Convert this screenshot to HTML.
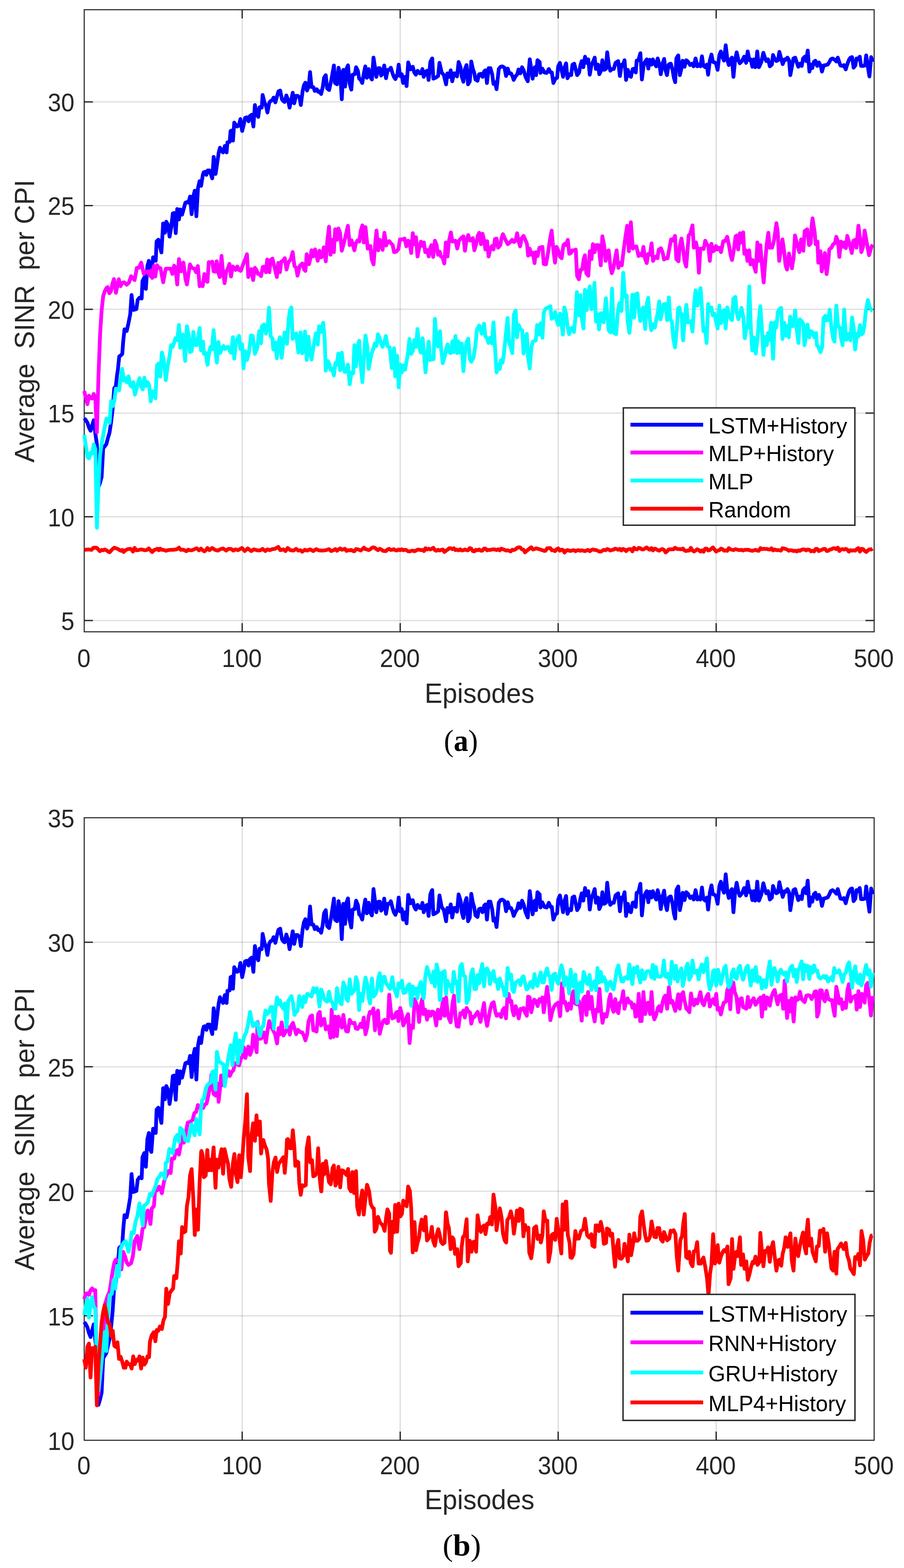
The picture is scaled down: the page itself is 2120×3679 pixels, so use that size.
<!DOCTYPE html>
<html lang="en">
<head>
<meta charset="utf-8">
<title>Average SINR per CPI vs Episodes</title>
<style>
html,body{margin:0;padding:0;background:#fff}
body{width:2120px;height:3679px;overflow:hidden}
svg{display:block}
</style>
</head>
<body>
<svg width="2120" height="3679" viewBox="0 0 2120 3679" role="img" aria-label="Average SINR per CPI versus episodes: (a) LSTM+History, MLP+History, MLP, Random; (b) LSTM+History, RNN+History, GRU+History, MLP4+History">
<rect width="2120" height="3679" fill="#fff"/>
<!-- (a) -->
<g>
<line x1="568.0" y1="22.8" x2="568.0" y2="1482.4" stroke="#262626" stroke-opacity="0.15" stroke-width="3"/>
<line x1="938.5" y1="22.8" x2="938.5" y2="1482.4" stroke="#262626" stroke-opacity="0.15" stroke-width="3"/>
<line x1="1309.0" y1="22.8" x2="1309.0" y2="1482.4" stroke="#262626" stroke-opacity="0.15" stroke-width="3"/>
<line x1="1679.5" y1="22.8" x2="1679.5" y2="1482.4" stroke="#262626" stroke-opacity="0.15" stroke-width="3"/>
<line x1="197.5" y1="1455.9" x2="2050.0" y2="1455.9" stroke="#262626" stroke-opacity="0.15" stroke-width="3"/>
<line x1="197.5" y1="1212.5" x2="2050.0" y2="1212.5" stroke="#262626" stroke-opacity="0.15" stroke-width="3"/>
<line x1="197.5" y1="969.2" x2="2050.0" y2="969.2" stroke="#262626" stroke-opacity="0.15" stroke-width="3"/>
<line x1="197.5" y1="725.8" x2="2050.0" y2="725.8" stroke="#262626" stroke-opacity="0.15" stroke-width="3"/>
<line x1="197.5" y1="482.4" x2="2050.0" y2="482.4" stroke="#262626" stroke-opacity="0.15" stroke-width="3"/>
<line x1="197.5" y1="239.1" x2="2050.0" y2="239.1" stroke="#262626" stroke-opacity="0.15" stroke-width="3"/>
<line x1="568.0" y1="1482.4" x2="568.0" y2="1462.0" stroke="#262626" stroke-width="3"/>
<line x1="568.0" y1="22.8" x2="568.0" y2="43.2" stroke="#262626" stroke-width="3"/>
<line x1="938.5" y1="1482.4" x2="938.5" y2="1462.0" stroke="#262626" stroke-width="3"/>
<line x1="938.5" y1="22.8" x2="938.5" y2="43.2" stroke="#262626" stroke-width="3"/>
<line x1="1309.0" y1="1482.4" x2="1309.0" y2="1462.0" stroke="#262626" stroke-width="3"/>
<line x1="1309.0" y1="22.8" x2="1309.0" y2="43.2" stroke="#262626" stroke-width="3"/>
<line x1="1679.5" y1="1482.4" x2="1679.5" y2="1462.0" stroke="#262626" stroke-width="3"/>
<line x1="1679.5" y1="22.8" x2="1679.5" y2="43.2" stroke="#262626" stroke-width="3"/>
<line x1="197.5" y1="1455.9" x2="217.9" y2="1455.9" stroke="#262626" stroke-width="3"/>
<line x1="2050.0" y1="1455.9" x2="2029.6" y2="1455.9" stroke="#262626" stroke-width="3"/>
<line x1="197.5" y1="1212.5" x2="217.9" y2="1212.5" stroke="#262626" stroke-width="3"/>
<line x1="2050.0" y1="1212.5" x2="2029.6" y2="1212.5" stroke="#262626" stroke-width="3"/>
<line x1="197.5" y1="969.2" x2="217.9" y2="969.2" stroke="#262626" stroke-width="3"/>
<line x1="2050.0" y1="969.2" x2="2029.6" y2="969.2" stroke="#262626" stroke-width="3"/>
<line x1="197.5" y1="725.8" x2="217.9" y2="725.8" stroke="#262626" stroke-width="3"/>
<line x1="2050.0" y1="725.8" x2="2029.6" y2="725.8" stroke="#262626" stroke-width="3"/>
<line x1="197.5" y1="482.4" x2="217.9" y2="482.4" stroke="#262626" stroke-width="3"/>
<line x1="2050.0" y1="482.4" x2="2029.6" y2="482.4" stroke="#262626" stroke-width="3"/>
<line x1="197.5" y1="239.1" x2="217.9" y2="239.1" stroke="#262626" stroke-width="3"/>
<line x1="2050.0" y1="239.1" x2="2029.6" y2="239.1" stroke="#262626" stroke-width="3"/>
<rect x="197.5" y="22.8" width="1852.5" height="1459.6" fill="none" stroke="#262626" stroke-width="2.5"/>
<polyline points="197.5,981.4 201.2,985.5 204.9,991.7 208.7,1003.0 212.4,1010.7 216.1,997.9 219.8,986.0 223.5,1016.4 227.2,1042.2 230.9,1143.1 234.6,1132.8 238.3,1119.4 242.0,1051.9 245.7,1047.0 249.4,1042.2 253.1,1027.6 256.8,1015.4 260.5,991.1 264.2,959.4 267.9,910.8 271.6,905.9 274.5,880.0 276.5,867.3 279.6,836.4 283.8,833.4 286.8,830.3 288.9,801.4 292.0,772.6 297.1,776.7 301.3,758.2 305.4,737.5 308.5,692.2 312.6,727.3 319.8,725.2 322.9,703.6 327.0,698.4 332.2,700.4 334.2,659.3 338.4,651.0 342.1,677.8 345.6,624.2 349.1,611.9 352.8,644.9 354.9,648.9 359.0,603.6 365.2,611.9 367.2,566.5 371.3,562.4 378.5,592.3 382.6,524.3 386.8,546.0 389.9,520.2 394.0,527.4 397.7,555.2 401.2,535.6 405.3,500.6 408.4,499.6 412.1,547.0 415.6,490.3 419.7,515.0 422.8,491.3 427.0,503.7 427.2,503.0 431.0,489.3 434.7,475.6 438.3,474.2 442.0,475.6 445.7,461.1 449.4,502.7 453.1,461.8 456.8,447.4 460.5,507.5 464.3,441.2 467.9,425.1 471.6,436.1 475.7,410.3 477.8,404.1 480.9,403.1 484.0,410.3 487.1,400.0 491.2,400.0 494.3,408.2 497.8,418.5 501.1,368.1 505.6,408.2 509.8,379.3 512.8,358.8 515.9,346.4 520.1,354.6 523.1,357.7 527.3,342.3 531.4,357.7 533.4,334.0 538.6,333.0 540.7,307.3 543.7,306.2 546.4,329.9 549.3,287.7 553.0,292.9 556.1,296.9 560.2,294.9 563.7,279.4 567.9,307.3 571.6,292.9 574.7,276.4 578.8,275.3 582.9,284.6 586.0,272.2 590.1,269.2 594.2,296.9 597.8,246.5 601.5,266.0 605.6,274.3 608.6,251.6 613.8,252.6 615.9,222.8 620.0,239.3 624.1,249.6 627.2,264.0 631.3,241.3 634.4,237.2 638.5,235.1 641.6,228.9 645.7,240.3 649.9,224.9 653.0,214.5 657.1,212.5 661.2,233.1 664.3,237.2 667.4,239.3 671.5,223.8 675.6,235.1 679.1,252.6 682.8,235.1 686.5,217.6 690.0,242.3 694.2,224.9 698.3,224.9 702.4,228.9 705.5,246.5 709.6,214.5 712.7,200.1 716.2,193.9 719.9,212.5 724.1,202.2 727.1,169.2 730.6,204.2 734.4,204.2 735.2,205.1 738.2,213.4 742.8,209.3 746.1,215.5 749.6,214.4 753.1,220.6 756.8,205.1 759.9,182.5 764.0,176.3 767.1,207.2 771.8,211.3 776.4,190.7 779.4,174.2 783.1,153.6 785.6,194.8 790.4,197.9 793.9,158.8 798.0,174.2 801.5,232.9 805.2,163.9 809.3,203.1 812.4,161.9 816.1,153.2 819.6,194.8 823.8,210.3 826.8,175.3 832.0,174.2 835.1,157.7 839.2,166.0 842.3,184.6 845.4,186.6 849.5,194.8 853.6,170.1 856.7,155.7 860.2,182.5 864.5,161.9 868.1,180.4 872.2,186.6 875.9,135.1 879.4,157.7 882.5,180.4 887.6,159.8 890.7,159.8 893.8,177.3 897.9,172.2 901.0,153.6 905.2,183.5 909.3,163.9 913.4,163.9 916.5,158.8 920.6,172.2 923.7,180.4 927.2,185.6 931.9,174.2 935.0,151.6 938.1,178.4 942.2,174.2 945.3,194.8 949.4,180.4 953.5,202.0 957.3,146.4 962.8,162.9 968.0,156.7 971.5,170.1 975.2,175.3 979.3,166.0 984.5,172.2 987.6,172.2 990.6,161.9 993.7,180.4 997.9,168.1 1001.6,166.0 1005.1,187.6 1009.2,145.4 1013.3,137.1 1013.7,137.1 1016.2,184.6 1021.3,182.5 1027.5,178.4 1030.6,147.5 1035.8,170.1 1040.9,176.3 1046.1,197.9 1049.1,172.2 1053.3,180.4 1057.0,164.9 1060.5,190.7 1064.6,172.2 1068.7,172.2 1071.8,179.4 1075.5,145.4 1080.1,157.7 1083.1,180.4 1086.7,191.8 1090.4,161.9 1094.1,152.6 1097.6,197.9 1101.7,190.7 1105.2,144.4 1108.9,161.9 1112.0,170.1 1115.1,186.6 1119.8,189.7 1123.3,174.2 1127.5,173.2 1131.6,180.4 1135.7,167.0 1138.8,164.9 1141.9,194.8 1146.0,159.8 1150.1,159.8 1154.2,174.2 1157.3,196.9 1160.8,192.8 1164.5,209.3 1169.7,161.9 1173.8,156.7 1177.9,155.7 1183.1,158.8 1186.8,178.4 1190.7,160.9 1194.4,172.2 1198.5,172.2 1201.6,178.4 1204.7,187.6 1208.8,179.4 1213.0,174.2 1216.0,162.9 1220.2,172.2 1224.3,157.7 1228.4,166.0 1232.5,180.4 1237.7,190.7 1242.4,139.2 1245.9,161.9 1249.0,184.6 1254.2,157.7 1257.2,176.3 1260.4,141.3 1265.5,145.4 1267.5,171.1 1271.7,160.9 1276.8,170.1 1282.0,171.1 1287.1,161.9 1291.3,170.1 1294.1,170.1 1297.8,194.8 1302.4,184.6 1306.5,182.5 1309.0,155.7 1313.1,147.5 1316.8,163.9 1320.5,180.4 1324.0,157.7 1327.5,148.5 1330.8,183.5 1335.3,174.2 1339.5,176.3 1342.5,151.6 1346.7,149.5 1349.8,161.9 1353.5,176.3 1358.0,170.1 1361.1,153.6 1364.2,143.3 1367.9,157.7 1372.0,133.0 1375.5,147.5 1379.6,139.2 1383.1,175.3 1386.8,153.6 1390.5,145.4 1394.7,135.1 1397.5,161.9 1402.3,151.6 1405.4,174.2 1409.5,166.0 1412.6,141.3 1416.7,163.9 1420.9,161.9 1423.9,122.7 1428.0,153.6 1431.2,166.0 1435.3,161.9 1439.4,161.9 1443.5,147.5 1449.7,143.3 1453.8,178.4 1457.9,151.6 1461.0,151.6 1464.7,141.3 1468.2,187.6 1472.4,163.9 1476.5,178.4 1479.6,180.4 1483.7,161.9 1487.8,160.9 1490.9,170.1 1493.0,142.3 1497.1,141.3 1501.8,124.8 1505.3,186.6 1509.4,153.6 1512.5,145.4 1516.7,139.2 1520.4,160.9 1523.9,140.2 1528.0,151.6 1531.1,139.2 1535.2,149.5 1538.9,155.7 1542.4,137.1 1546.5,151.6 1549.6,174.2 1553.8,149.5 1557.5,138.2 1560.9,166.0 1564.1,176.3 1568.2,151.6 1571.9,149.5 1573.1,149.5 1577.2,163.9 1580.3,182.5 1583.4,192.8 1586.1,137.1 1590.6,129.9 1594.3,176.3 1597.8,161.9 1600.9,142.3 1605.4,156.7 1609.1,141.3 1613.3,144.4 1618.4,152.6 1622.6,149.5 1626.7,155.7 1631.2,137.1 1635.5,155.7 1639.0,151.6 1642.5,155.7 1646.2,132.0 1649.3,153.6 1653.5,157.7 1657.6,151.6 1660.6,175.3 1664.8,141.3 1668.5,127.9 1672.0,145.4 1676.1,146.4 1679.2,149.5 1682.9,163.9 1687.0,128.9 1690.5,120.6 1693.6,133.0 1697.8,142.3 1701.9,106.2 1706.0,141.3 1709.1,152.6 1713.2,139.2 1716.3,135.1 1720.0,180.4 1724.1,139.2 1727.6,122.7 1731.7,141.3 1734.9,148.5 1740.0,143.3 1745.2,133.0 1749.7,147.5 1753.4,120.6 1757.5,141.3 1760.6,139.2 1764.3,156.7 1767.8,139.2 1770.9,157.7 1772.5,156.7 1775.8,120.6 1779.9,157.7 1785.5,145.4 1790.2,123.8 1793.7,135.1 1796.8,143.3 1801.3,139.2 1805.4,155.7 1810.2,151.6 1812.8,128.9 1816.4,137.1 1820.5,143.3 1824.6,141.3 1827.7,121.7 1831.8,137.1 1835.5,150.5 1840.0,139.2 1843.1,140.2 1846.6,135.1 1850.4,141.3 1853.4,176.3 1857.6,153.6 1860.7,137.1 1864.8,135.1 1868.9,147.5 1872.0,156.7 1876.1,149.5 1880.2,154.7 1883.3,137.1 1887.5,133.0 1890.5,143.3 1894.2,118.6 1898.2,168.1 1901.9,151.6 1904.9,159.8 1908.5,145.4 1912.2,142.3 1916.3,154.7 1920.4,146.4 1924.5,153.6 1927.6,168.1 1931.7,153.6 1936.9,152.6 1941.0,151.6 1945.1,145.4 1948.2,139.2 1952.3,137.1 1957.5,140.2 1961.6,144.4 1964.7,135.1 1968.8,147.5 1970.9,153.6 1976.0,154.7 1979.1,152.6 1983.3,162.9 1987.4,149.5 1991.5,139.2 1994.6,135.1 1998.3,134.0 2001.8,158.8 2005.9,153.6 2008.6,137.1 2012.1,139.2 2016.2,133.0 2019.3,154.7 2024.5,154.7 2028.6,153.6 2031.3,129.9 2034.8,153.6 2038.9,179.4 2043.0,134.0 2046.3,145.4" fill="none" stroke="#0000ff" stroke-width="8.8" stroke-linejoin="round" stroke-linecap="butt"/>
<polyline points="197.5,917.5 201.2,934.0 204.9,948.4 208.7,928.3 212.4,934.0 216.1,935.0 219.8,924.2 223.5,934.0 227.2,1014.3 231.0,880.0 234.7,784.9 238.4,727.3 242.1,694.3 245.9,683.0 249.6,675.8 252.4,673.7 256.3,688.1 260.0,684.0 263.7,665.4 267.3,654.7 271.8,687.1 275.5,669.6 278.6,655.1 282.7,671.6 286.8,663.4 291.0,662.3 297.1,667.9 302.3,663.4 307.4,647.9 311.6,653.1 315.7,657.2 320.8,628.7 326.0,628.4 331.1,616.0 337.3,642.8 341.4,638.7 346.6,636.6 350.7,645.9 354.2,634.5 356.9,652.1 361.0,624.2 364.1,648.9 368.2,622.2 372.3,628.4 376.5,629.4 382.6,662.3 388.8,630.4 394.0,630.4 400.2,630.4 404.3,642.8 408.4,623.2 411.5,628.4 415.6,667.5 419.7,607.8 424.9,636.6 430.0,616.0 435.2,655.1 438.3,667.5 445.5,620.1 449.6,628.4 455.8,630.4 459.9,638.7 464.0,624.2 468.2,671.6 472.3,668.5 475.2,671.6 479.3,642.8 483.4,659.3 486.5,661.3 489.6,615.0 493.7,616.0 497.8,614.0 500.9,636.6 505.0,637.6 508.1,612.9 512.2,640.7 515.3,650.0 519.5,600.5 523.2,640.7 526.7,664.4 530.8,636.6 534.9,628.4 538.0,619.1 541.7,648.9 545.8,625.2 549.3,628.4 552.4,633.5 556.6,625.2 560.7,633.5 564.8,635.6 571.0,618.0 575.1,607.8 579.2,596.4 582.3,650.0 586.4,632.5 589.5,631.4 593.6,657.2 597.8,628.4 601.9,634.5 605.0,642.8 609.1,642.8 612.2,647.9 616.3,626.3 621.4,625.2 623.5,638.7 626.6,608.8 631.7,638.7 634.8,609.8 639.0,606.7 644.1,628.4 649.3,650.0 652.4,617.0 656.5,638.7 659.6,614.0 663.7,611.9 667.8,605.7 671.9,632.5 676.0,616.0 682.2,607.8 686.3,591.3 690.5,624.2 694.6,628.4 697.7,646.9 702.8,624.2 709.0,618.0 713.1,632.5 716.2,635.6 719.3,596.4 724.5,620.1 727.5,607.8 730.6,587.1 734.8,601.6 738.9,585.1 745.1,611.9 749.2,588.2 753.1,603.9 756.2,601.8 759.3,580.2 764.0,613.2 767.5,566.8 771.6,531.8 775.1,597.7 778.9,562.7 783.0,591.6 786.0,538.0 790.2,562.7 793.7,535.9 797.4,546.2 801.5,588.4 805.6,573.0 809.8,556.5 815.9,529.7 820.1,575.1 824.2,563.7 827.3,573.0 831.0,587.4 834.5,570.9 838.6,563.7 842.7,566.8 845.8,542.1 849.9,528.7 853.0,568.9 857.1,532.8 862.3,583.3 865.4,577.1 868.5,577.1 871.6,608.0 876.1,620.4 879.8,573.0 882.9,541.0 887.0,587.4 890.7,562.7 894.2,568.9 897.3,586.4 901.5,546.2 905.6,576.1 909.7,566.8 912.8,565.8 916.9,570.9 921.0,575.1 924.1,591.6 929.3,590.5 934.4,584.3 937.9,561.7 943.7,561.7 948.8,559.6 952.9,578.1 957.1,564.7 960.2,566.8 964.3,593.6 968.0,547.2 972.1,573.0 975.6,556.5 979.1,601.8 982.8,583.3 987.0,566.8 991.1,577.1 994.1,568.9 997.3,591.6 1001.4,586.4 1005.5,601.8 1008.6,583.3 1011.7,575.1 1015.8,602.9 1019.9,564.7 1024.0,575.1 1027.1,597.7 1031.2,590.5 1034.1,601.8 1037.8,603.9 1041.9,618.3 1045.5,568.9 1049.6,601.8 1052.7,566.8 1057.4,545.2 1060.9,566.8 1065.0,565.8 1068.1,564.7 1072.3,583.3 1076.4,564.7 1081.5,558.6 1086.7,554.5 1090.4,588.4 1093.9,564.7 1098.0,551.4 1102.1,564.7 1105.2,562.7 1108.9,558.6 1112.4,587.4 1116.5,573.0 1120.7,552.4 1123.8,546.2 1127.9,573.0 1131.6,548.3 1135.1,562.7 1138.2,585.4 1142.3,565.8 1145.8,601.8 1149.5,585.4 1153.6,577.1 1157.3,585.4 1160.8,560.7 1164.4,559.6 1168.1,581.2 1173.2,575.1 1176.3,558.6 1179.4,549.3 1183.5,558.6 1187.6,566.8 1190.7,573.0 1195.8,568.9 1201.0,562.7 1205.1,567.9 1209.3,564.7 1212.7,547.2 1216.5,566.8 1219.6,578.1 1223.7,558.6 1227.8,553.4 1232.9,564.7 1236.0,573.0 1238.5,599.8 1242.2,583.3 1245.3,597.7 1249.4,592.6 1253.6,617.3 1256.6,591.6 1260.8,600.8 1264.9,581.2 1269.0,580.2 1272.1,579.2 1275.2,619.4 1280.4,620.4 1285.5,591.6 1289.6,562.7 1293.7,541.0 1297.8,587.4 1301.6,616.3 1305.1,579.2 1309.2,587.4 1313.1,601.8 1317.2,606.0 1321.3,575.1 1324.4,571.9 1327.5,575.1 1331.6,562.7 1335.1,595.6 1338.9,593.6 1341.9,587.4 1346.0,587.4 1350.2,585.4 1353.3,647.1 1357.4,655.4 1361.5,632.7 1365.6,631.7 1368.7,608.0 1371.8,598.8 1374.9,641.0 1379.7,647.1 1383.1,589.5 1387.2,608.0 1390.4,573.0 1394.5,591.6 1398.6,575.1 1403.7,575.1 1408.9,622.5 1412.6,554.5 1416.7,575.1 1420.2,612.2 1424.3,589.5 1427.4,587.4 1431.6,626.6 1434.7,641.0 1438.8,628.7 1442.9,603.9 1446.0,587.4 1450.1,628.7 1454.2,616.3 1458.3,622.5 1462.5,587.4 1466.6,556.5 1470.7,529.7 1474.8,589.5 1479.4,521.5 1484.1,583.3 1488.2,579.2 1492.4,578.1 1497.5,600.8 1501.6,595.6 1505.7,599.8 1508.8,579.2 1513.0,608.0 1516.7,617.3 1520.1,595.6 1524.3,597.7 1528.0,570.9 1531.5,612.2 1535.6,603.9 1538.7,601.8 1541.8,606.0 1544.9,585.4 1550.0,582.3 1554.2,593.6 1557.2,609.0 1561.4,606.0 1565.5,606.0 1568.6,589.5 1573.7,561.7 1577.9,564.7 1583.0,553.4 1586.1,608.0 1591.2,613.2 1594.1,577.1 1598.2,559.6 1602.4,587.4 1605.4,612.2 1609.2,625.5 1612.3,587.4 1615.1,552.4 1618.8,548.3 1624.0,528.7 1627.1,581.2 1632.2,568.9 1635.3,583.3 1639.0,639.9 1642.5,583.3 1646.7,583.3 1650.2,584.3 1653.9,564.7 1657.6,573.0 1661.1,577.1 1664.6,612.2 1668.3,571.9 1672.4,589.5 1675.5,587.4 1679.0,577.1 1682.7,585.4 1686.8,581.2 1690.9,591.6 1696.1,565.8 1700.2,565.8 1705.4,555.5 1709.5,575.1 1713.6,599.8 1716.7,610.1 1720.8,587.4 1725.0,554.5 1728.4,552.4 1731.1,585.4 1735.3,547.2 1738.3,568.9 1742.9,545.2 1745.6,595.6 1749.7,587.4 1752.8,612.2 1756.9,587.4 1760.0,620.4 1765.1,610.1 1768.2,624.5 1772.3,637.9 1776.1,568.9 1779.6,612.2 1783.1,575.1 1786.8,620.4 1790.9,662.6 1795.0,608.0 1798.1,573.0 1801.8,546.2 1805.3,581.2 1810.5,581.2 1814.6,566.8 1817.7,546.2 1820.8,523.6 1824.1,546.2 1827.2,612.2 1831.3,587.4 1834.9,561.7 1838.6,587.4 1842.3,622.5 1845.7,632.7 1850.3,594.6 1854.0,614.2 1857.1,629.7 1861.2,603.9 1864.3,552.4 1869.5,573.0 1874.6,591.6 1878.7,561.7 1883.9,588.4 1887.0,542.1 1893.1,538.0 1897.3,575.1 1901.4,570.9 1903.4,529.7 1905.5,512.2 1910.7,546.2 1912.7,573.0 1917.2,566.8 1918.9,616.3 1924.1,589.5 1927.1,636.9 1931.3,616.3 1934.4,593.6 1938.5,643.1 1942.6,612.2 1944.7,585.4 1949.8,581.2 1953.9,573.0 1958.0,570.9 1961.2,555.5 1965.3,566.8 1968.3,602.9 1972.5,566.8 1977.6,579.2 1979.7,568.9 1983.8,582.3 1986.9,553.4 1992.1,570.9 1997.6,593.6 2001.3,564.7 2005.4,562.7 2008.5,581.2 2013.1,529.7 2016.8,558.6 2019.9,591.6 2024.0,579.2 2027.7,541.0 2032.2,566.8 2038.0,598.8 2043.6,579.2 2046.7,574.0" fill="none" stroke="#ff00ff" stroke-width="8.8" stroke-linejoin="round" stroke-linecap="butt"/>
<polyline points="197.6,1020.0 201.3,1045.7 205.1,1072.5 208.8,1075.6 212.5,1062.2 216.2,1064.3 219.9,1042.7 223.6,1054.0 227.3,1238.4 231.0,1138.5 234.7,1066.4 238.4,1041.6 242.1,1021.0 245.9,1000.4 249.6,981.9 253.3,983.9 257.0,992.2 260.7,940.6 264.4,953.0 268.1,940.6 271.8,911.8 275.5,913.9 279.2,915.9 282.9,891.2 286.6,865.4 290.3,893.3 294.1,887.1 297.8,897.4 301.5,883.0 305.2,903.6 308.9,907.7 312.6,896.4 316.3,926.2 320.0,913.9 323.7,897.4 327.4,887.1 331.1,907.7 334.8,913.9 338.5,886.0 342.3,905.6 346.0,896.4 349.7,903.6 353.4,941.7 357.1,918.0 360.8,920.1 364.5,934.5 368.2,857.1 371.9,852.9 375.6,883.8 379.6,827.2 383.7,842.6 388.8,892.1 392.9,861.2 397.1,838.5 401.2,809.7 405.3,813.8 411.5,793.2 415.6,798.3 419.7,762.3 422.8,815.8 429.0,784.9 434.2,846.8 438.3,765.4 442.4,787.0 445.5,826.2 449.6,824.1 453.3,778.8 457.9,809.7 462.0,809.7 468.2,769.5 471.3,822.0 472.1,809.7 476.2,801.4 478.2,830.3 482.4,828.2 486.5,856.1 490.6,826.2 493.7,813.8 496.8,820.0 500.9,774.6 505.0,822.0 508.7,850.9 512.2,802.5 516.4,828.2 520.5,817.9 524.0,811.7 527.7,819.0 531.8,814.8 534.9,813.8 539.0,824.1 542.1,828.2 546.3,791.1 549.3,841.6 553.4,803.5 556.6,795.3 560.7,788.1 563.7,819.0 567.9,807.6 571.0,864.3 575.1,824.1 579.2,844.7 583.3,830.3 588.5,787.0 592.6,788.1 597.8,830.3 602.9,817.9 608.1,776.7 612.2,805.5 614.2,765.4 619.4,761.2 623.5,782.9 627.6,768.4 630.7,722.1 634.8,789.1 639.0,794.2 641.0,820.0 645.1,803.5 649.3,840.6 653.4,801.4 656.5,791.1 660.6,839.6 664.7,801.4 667.8,779.8 673.0,806.6 677.1,747.9 680.2,727.3 683.3,721.1 686.3,795.3 690.5,789.1 694.6,781.9 699.7,827.2 704.9,779.8 709.0,829.2 712.1,817.9 715.2,777.7 719.3,844.7 723.4,790.1 726.5,822.0 730.6,843.7 735.8,809.7 740.9,781.9 745.1,808.6 748.2,765.4 753.3,778.8 754.1,774.9 757.8,757.4 761.3,793.5 764.0,869.7 768.6,847.0 772.7,855.3 774.7,867.6 778.9,864.6 783.0,881.0 786.7,851.1 790.2,855.3 793.3,829.5 797.8,868.7 801.5,827.5 805.6,863.5 808.7,872.8 811.8,871.8 815.9,855.3 820.1,901.7 824.2,873.8 828.3,875.9 831.0,810.0 834.9,859.4 838.6,814.0 842.3,799.6 845.8,855.3 849.9,896.5 853.7,834.7 857.1,787.3 861.3,814.0 864.4,865.6 868.5,845.0 871.6,828.5 875.7,818.2 878.8,805.8 882.9,812.0 886.4,784.2 890.1,793.5 894.2,807.9 897.3,814.0 901.5,801.7 904.9,788.3 908.6,812.0 913.8,815.1 915.9,834.7 918.9,863.5 924.1,817.2 926.8,883.1 931.3,834.7 935.0,908.9 938.5,855.3 942.6,873.8 945.7,857.3 949.9,867.6 954.0,845.0 957.1,826.4 960.2,795.5 964.3,830.5 968.4,822.3 971.5,797.6 975.6,814.0 979.1,771.8 982.8,814.0 987.0,827.5 991.1,793.5 994.1,826.4 997.9,873.8 1001.4,834.7 1005.5,801.7 1008.6,845.0 1012.7,842.9 1016.8,842.9 1019.9,748.1 1024.0,793.5 1027.1,813.0 1031.9,777.0 1034.1,814.0 1038.2,852.2 1043.4,834.7 1046.5,818.2 1049.6,807.9 1053.7,826.4 1056.8,828.5 1060.9,800.7 1064.0,826.4 1068.1,788.3 1072.3,828.5 1075.3,801.7 1079.4,827.5 1083.1,805.8 1086.7,870.8 1090.8,826.4 1093.9,803.8 1098.0,794.5 1102.1,842.9 1105.2,849.1 1110.4,838.8 1114.5,814.0 1118.6,772.9 1123.8,763.6 1129.9,783.1 1135.1,759.5 1138.2,789.3 1142.3,793.5 1145.4,804.8 1149.5,792.4 1153.6,805.8 1157.3,756.4 1160.8,814.0 1164.5,873.8 1169.1,855.3 1172.2,865.6 1174.8,845.0 1178.4,851.1 1181.4,832.6 1185.5,793.5 1190.3,746.1 1193.8,803.8 1197.9,814.0 1201.4,828.5 1205.1,737.8 1209.3,728.6 1212.3,791.4 1216.5,762.6 1220.6,772.9 1224.7,774.9 1227.8,829.5 1231.9,793.5 1235.4,783.1 1238.1,834.7 1242.2,864.6 1246.3,814.0 1249.4,801.7 1253.6,799.6 1256.6,798.6 1259.7,762.6 1263.9,785.2 1268.0,758.4 1272.1,792.4 1275.2,733.7 1279.3,724.4 1285.5,721.3 1290.7,718.3 1293.7,748.1 1297.8,744.0 1302.0,731.6 1305.1,750.2 1309.2,762.6 1313.3,735.8 1313.7,737.8 1317.2,762.6 1319.9,785.2 1323.4,721.3 1327.5,735.8 1330.6,762.6 1334.7,784.2 1338.9,770.8 1341.9,768.7 1346.0,779.1 1349.2,748.1 1352.9,685.3 1357.4,739.9 1361.1,692.5 1364.6,748.1 1368.3,770.8 1371.8,680.1 1375.9,727.5 1379.0,690.4 1383.1,671.9 1386.7,725.5 1390.4,723.4 1394.1,663.6 1397.6,754.3 1401.7,737.8 1404.8,772.9 1408.9,734.8 1412.0,735.8 1415.5,756.4 1420.9,699.7 1424.3,737.8 1427.4,774.9 1431.6,780.1 1435.3,677.0 1439.4,781.1 1445.0,784.2 1449.1,731.6 1452.6,711.1 1457.3,729.6 1461.5,639.9 1465.6,696.6 1469.7,693.5 1471.8,752.2 1475.9,781.1 1480.0,742.0 1483.1,691.5 1487.2,745.0 1490.9,690.4 1494.8,688.4 1498.5,731.6 1501.6,753.3 1505.7,727.5 1508.8,721.3 1513.0,771.8 1517.1,711.1 1520.1,698.7 1524.3,752.2 1527.4,774.9 1531.5,760.5 1535.6,768.7 1538.7,752.2 1542.8,731.6 1545.9,706.9 1549.0,749.2 1553.1,731.6 1556.2,714.1 1561.4,713.1 1564.5,751.2 1568.6,697.7 1571.7,748.1 1575.8,755.3 1578.9,793.5 1583.0,815.1 1587.1,772.9 1590.2,723.4 1593.1,721.3 1596.2,737.8 1598.2,735.8 1602.0,798.6 1606.5,742.0 1609.6,715.1 1613.1,756.4 1616.8,755.3 1620.5,753.3 1624.0,778.0 1628.1,711.1 1631.2,681.2 1635.7,717.2 1639.4,690.4 1643.0,676.0 1646.7,731.6 1649.7,777.0 1653.9,770.8 1657.0,804.8 1660.7,713.1 1664.2,729.6 1668.3,721.3 1671.4,739.9 1675.5,735.8 1679.6,756.4 1683.1,770.8 1686.8,717.2 1690.9,758.4 1695.1,731.6 1698.2,727.5 1701.7,770.8 1705.4,721.3 1709.5,737.8 1713.6,748.1 1716.7,751.2 1719.8,700.7 1724.6,696.6 1728.0,735.8 1731.7,749.2 1735.3,737.8 1738.8,722.4 1743.5,746.1 1746.6,793.5 1750.7,766.7 1753.8,768.7 1757.3,671.9 1761.0,772.9 1764.1,822.3 1768.2,792.4 1772.3,829.5 1776.5,793.5 1779.6,752.2 1783.1,718.3 1786.8,772.9 1790.3,832.6 1794.0,790.4 1798.1,810.0 1801.2,781.1 1804.3,797.6 1808.4,757.4 1813.0,841.9 1816.7,756.4 1820.8,768.7 1824.1,731.6 1828.3,724.4 1832.0,722.4 1834.9,795.5 1839.1,757.4 1842.7,787.3 1845.7,764.6 1849.9,791.4 1853.0,743.0 1857.1,765.7 1861.2,764.6 1864.7,728.6 1868.4,772.9 1872.5,804.8 1875.6,749.2 1880.8,754.3 1883.9,760.5 1886.5,810.0 1890.1,789.3 1893.8,761.5 1897.9,791.4 1902.4,777.0 1906.5,781.1 1909.6,791.4 1913.8,781.1 1915.8,810.0 1918.9,814.0 1924.1,826.4 1928.2,814.0 1931.3,746.1 1935.4,740.9 1938.5,752.2 1942.6,750.2 1945.7,726.5 1949.8,768.7 1953.9,793.5 1957.0,801.7 1961.2,717.2 1965.3,764.6 1969.4,768.7 1972.5,793.5 1976.0,810.0 1979.7,726.5 1982.8,783.1 1984.8,797.6 1988.9,783.1 1994.1,798.6 1998.2,745.0 2002.4,772.9 2005.4,820.2 2009.6,783.1 2012.7,789.3 2016.8,762.6 2019.9,785.2 2024.0,781.1 2027.1,762.6 2030.2,731.6 2035.3,703.9 2039.4,721.3 2043.6,727.5 2046.7,728.6" fill="none" stroke="#00ffff" stroke-width="8.8" stroke-linejoin="round" stroke-linecap="butt"/>
<polyline points="197.6,1290.2 202.4,1289.6 206.5,1289.1 210.6,1289.6 214.7,1290.2 218.8,1285.4 223.0,1285.0 227.1,1285.4 231.2,1290.2 234.3,1293.3 238.4,1290.2 242.6,1291.2 245.6,1289.1 249.7,1291.2 253.9,1294.3 257.0,1295.8 261.1,1291.2 265.2,1287.1 268.3,1285.0 272.4,1286.7 276.5,1288.1 280.7,1290.8 283.8,1292.3 286.8,1290.2 289.9,1295.3 294.1,1291.2 298.2,1289.1 302.3,1288.1 305.4,1287.5 309.5,1290.2 311.6,1294.3 315.7,1285.4 319.8,1291.2 323.9,1290.8 328.1,1289.6 332.2,1289.1 336.3,1290.2 340.4,1291.2 344.6,1290.2 349.1,1286.7 352.8,1291.2 356.9,1295.3 361.0,1290.8 365.2,1289.1 369.3,1287.5 372.3,1291.2 375.5,1287.1 379.6,1290.2 383.7,1290.2 388.8,1292.3 394.0,1290.8 399.1,1290.2 404.3,1290.2 409.4,1289.6 414.6,1288.8 419.7,1285.0 423.9,1290.2 429.0,1289.6 433.1,1291.2 437.3,1293.3 441.4,1289.6 445.5,1291.2 450.7,1290.8 454.8,1289.1 458.9,1287.1 462.0,1286.7 465.1,1290.2 467.1,1291.2 471.3,1287.1 475.4,1291.2 479.5,1293.7 483.6,1290.2 486.2,1285.7 491.3,1290.9 497.5,1285.7 503.7,1289.9 510.9,1291.9 516.1,1288.9 523.3,1286.8 530.5,1291.9 535.6,1287.8 541.8,1287.8 547.0,1291.9 552.1,1288.9 558.3,1290.9 567.6,1285.7 573.7,1293.0 581.0,1286.8 589.2,1293.0 595.4,1288.9 603.6,1291.3 609.8,1291.3 616.0,1287.8 622.2,1293.0 627.3,1288.9 632.5,1290.9 638.7,1288.4 644.8,1287.8 652.7,1283.1 657.2,1290.9 664.4,1288.9 669.6,1293.0 674.7,1285.7 680.9,1290.9 688.1,1291.9 694.3,1287.8 699.5,1291.9 704.6,1290.9 708.7,1294.6 714.9,1289.9 720.1,1291.9 727.2,1288.9 734.5,1293.0 741.7,1288.4 747.8,1291.3 756.1,1291.9 764.3,1290.9 771.6,1288.4 776.7,1293.0 782.9,1290.6 786.6,1288.3 790.3,1292.2 794.0,1289.1 797.7,1286.7 801.4,1289.9 805.1,1288.9 808.8,1287.5 812.5,1292.6 816.2,1290.8 819.9,1291.3 823.6,1290.1 827.4,1292.7 831.1,1293.4 834.8,1288.2 838.5,1288.8 842.2,1290.0 845.9,1291.6 849.6,1288.7 853.3,1285.0 857.0,1288.5 860.7,1289.1 864.4,1290.9 868.1,1289.1 871.8,1285.6 875.5,1284.2 879.2,1285.5 882.9,1288.7 886.6,1290.8 890.3,1287.6 894.0,1289.0 897.7,1292.2 901.5,1292.9 905.2,1293.1 908.9,1289.1 912.6,1287.8 916.3,1290.5 920.0,1290.0 923.7,1288.7 927.4,1291.2 931.1,1291.6 934.8,1289.1 938.5,1291.0 942.2,1288.8 945.9,1291.1 949.6,1289.9 953.3,1290.8 957.0,1293.5 960.7,1293.9 964.4,1292.5 968.1,1291.9 971.8,1293.4 975.5,1291.9 979.3,1289.6 983.0,1289.6 986.7,1290.7 990.4,1290.3 994.1,1293.1 997.8,1286.1 1001.5,1289.3 1005.2,1287.5 1008.9,1289.3 1012.6,1287.4 1016.3,1285.3 1020.0,1290.8 1023.7,1292.4 1027.4,1290.0 1031.1,1291.6 1034.8,1290.2 1038.5,1289.4 1042.2,1295.2 1045.9,1292.1 1049.7,1289.8 1053.4,1286.4 1057.1,1286.5 1060.8,1288.5 1064.5,1286.4 1068.2,1290.8 1071.9,1289.6 1075.6,1291.4 1079.3,1288.7 1083.0,1291.6 1086.7,1291.0 1090.4,1289.2 1094.1,1290.8 1097.8,1291.2 1101.5,1286.0 1105.2,1287.1 1108.9,1293.1 1112.6,1293.6 1116.3,1290.0 1120.0,1291.1 1123.8,1289.1 1127.5,1292.0 1131.2,1292.0 1134.9,1287.2 1138.6,1287.2 1142.3,1291.2 1146.0,1290.1 1149.7,1290.4 1153.4,1289.3 1157.1,1289.0 1160.8,1289.1 1164.5,1290.7 1168.2,1288.8 1171.9,1291.2 1175.6,1287.3 1179.3,1288.9 1183.0,1289.8 1186.7,1291.8 1190.4,1291.0 1194.1,1292.5 1197.8,1293.7 1201.6,1289.7 1205.3,1290.5 1209.0,1289.0 1212.7,1285.6 1216.4,1284.1 1220.1,1284.7 1223.8,1289.0 1227.5,1289.6 1231.2,1296.0 1234.9,1292.6 1238.6,1289.8 1242.3,1286.4 1246.0,1284.1 1249.7,1289.3 1253.4,1288.2 1257.1,1286.6 1260.8,1287.5 1264.5,1288.5 1268.2,1289.6 1272.0,1291.0 1275.7,1292.5 1279.4,1292.3 1283.1,1286.3 1286.8,1286.2 1290.5,1285.9 1294.2,1291.2 1297.9,1291.2 1301.6,1293.2 1305.3,1288.9 1309.0,1286.7 1312.7,1292.2 1316.4,1289.6 1320.1,1290.1 1323.8,1296.5 1327.5,1292.0 1331.2,1290.7 1334.9,1292.2 1338.6,1292.7 1342.3,1291.4 1346.0,1290.8 1349.8,1293.2 1353.5,1291.4 1357.2,1290.9 1360.9,1292.3 1364.6,1291.2 1368.3,1292.2 1372.0,1293.2 1375.7,1291.3 1379.4,1290.4 1383.1,1293.4 1386.8,1290.5 1390.5,1289.1 1394.2,1290.3 1397.9,1290.5 1401.6,1292.0 1405.3,1294.0 1409.0,1294.1 1412.7,1292.0 1416.4,1289.8 1420.2,1291.1 1423.9,1288.2 1427.6,1289.4 1431.3,1291.7 1435.0,1290.3 1438.7,1289.7 1442.4,1287.3 1446.1,1288.2 1449.8,1290.0 1453.5,1287.7 1457.2,1291.7 1460.9,1287.9 1464.6,1289.5 1468.3,1293.0 1472.0,1289.3 1475.7,1288.6 1479.4,1288.4 1483.1,1293.9 1486.8,1285.1 1490.5,1288.6 1494.2,1289.0 1498.0,1285.5 1501.7,1286.4 1505.4,1289.1 1509.1,1289.2 1512.8,1286.6 1516.5,1284.4 1520.2,1287.7 1523.9,1289.9 1527.6,1285.8 1531.3,1291.5 1535.0,1287.4 1538.7,1288.3 1542.4,1290.8 1546.1,1292.0 1549.8,1289.2 1553.5,1288.2 1557.2,1290.1 1560.9,1296.3 1564.6,1293.3 1568.3,1288.8 1572.1,1289.0 1575.8,1288.7 1579.5,1288.9 1583.2,1285.2 1586.9,1287.7 1590.6,1288.4 1594.3,1288.3 1598.0,1288.8 1601.7,1287.1 1605.4,1291.6 1609.1,1292.9 1612.8,1291.6 1616.5,1291.8 1620.2,1285.3 1623.9,1291.6 1627.6,1294.0 1631.3,1291.6 1635.0,1288.6 1638.7,1290.6 1642.5,1294.1 1646.2,1291.4 1649.9,1294.7 1653.6,1287.4 1657.3,1287.1 1661.0,1291.6 1664.7,1290.4 1668.4,1287.0 1672.1,1284.4 1675.8,1289.6 1679.5,1294.2 1683.2,1291.7 1686.9,1291.0 1690.6,1287.2 1694.3,1288.5 1698.0,1292.1 1701.7,1291.4 1705.4,1292.4 1709.1,1286.1 1712.8,1288.9 1716.5,1290.0 1720.3,1290.6 1724.0,1288.6 1727.7,1289.1 1731.4,1290.4 1735.1,1290.6 1738.8,1290.0 1742.5,1291.8 1746.2,1290.1 1749.9,1290.2 1753.6,1289.8 1757.3,1290.8 1761.0,1291.9 1764.7,1292.4 1768.4,1291.1 1772.1,1290.0 1775.8,1291.7 1779.5,1292.4 1783.2,1285.9 1786.9,1288.5 1790.7,1287.5 1794.4,1288.1 1798.1,1287.8 1801.8,1289.0 1805.5,1289.4 1809.2,1286.4 1812.9,1291.7 1816.6,1289.1 1820.3,1290.8 1824.0,1290.6 1827.7,1291.0 1831.4,1292.0 1835.1,1286.2 1838.8,1286.9 1842.5,1288.1 1846.2,1289.5 1849.9,1292.2 1853.6,1290.8 1857.3,1291.4 1861.0,1293.0 1864.8,1292.0 1868.5,1294.0 1872.2,1291.2 1875.9,1292.5 1879.6,1289.9 1883.3,1288.9 1887.0,1289.3 1890.7,1291.3 1894.4,1289.2 1898.1,1290.1 1901.8,1293.6 1905.5,1292.1 1909.2,1293.9 1912.9,1287.9 1916.6,1287.9 1920.3,1293.2 1924.0,1290.6 1927.7,1290.0 1931.4,1287.9 1935.1,1287.9 1938.8,1292.9 1942.6,1292.2 1946.3,1289.1 1950.0,1288.8 1953.7,1286.4 1957.4,1286.3 1961.1,1288.4 1964.8,1284.9 1968.5,1292.8 1972.2,1289.1 1975.9,1288.5 1979.6,1289.5 1983.3,1287.8 1987.0,1289.6 1990.7,1294.4 1994.4,1290.8 1998.1,1292.1 2001.8,1291.1 2005.5,1292.1 2009.2,1288.4 2013.0,1286.0 2016.7,1294.3 2020.4,1287.6 2024.1,1288.3 2027.8,1292.7 2031.5,1295.2 2035.2,1291.4 2038.9,1289.0 2042.6,1289.4 2046.3,1287.2" fill="none" stroke="#ff0000" stroke-width="8.8" stroke-linejoin="round" stroke-linecap="butt"/>
<rect x="1461.8" y="957.0" width="543.0" height="275.3" fill="#fff" stroke="#262626" stroke-width="3.3"/>
<line x1="1478.5" y1="996.4" x2="1649" y2="996.4" stroke="#0000ff" stroke-width="9"/>
<text x="1661.3" y="1017.0" font-family="'Liberation Sans', Arial, Helvetica, sans-serif" font-size="51.2" fill="#000">LSTM+History</text>
<line x1="1478.5" y1="1061.8" x2="1649" y2="1061.8" stroke="#ff00ff" stroke-width="9"/>
<text x="1661.3" y="1082.4" font-family="'Liberation Sans', Arial, Helvetica, sans-serif" font-size="51.2" fill="#000">MLP+History</text>
<line x1="1478.5" y1="1127.6" x2="1649" y2="1127.6" stroke="#00ffff" stroke-width="9"/>
<text x="1661.3" y="1148.2" font-family="'Liberation Sans', Arial, Helvetica, sans-serif" font-size="51.2" fill="#000">MLP</text>
<line x1="1478.5" y1="1193.4" x2="1649" y2="1193.4" stroke="#ff0000" stroke-width="9"/>
<text x="1661.3" y="1214.0" font-family="'Liberation Sans', Arial, Helvetica, sans-serif" font-size="51.2" fill="#000">Random</text>
<g font-family="'Liberation Sans', Arial, Helvetica, sans-serif" fill="#262626">
<text transform="translate(196.7,1564.6) scale(0.961,1)" font-size="58.6" text-anchor="middle">0</text>
<text transform="translate(567.2,1564.6) scale(0.961,1)" font-size="58.6" text-anchor="middle">100</text>
<text transform="translate(937.7,1564.6) scale(0.961,1)" font-size="58.6" text-anchor="middle">200</text>
<text transform="translate(1308.2,1564.6) scale(0.961,1)" font-size="58.6" text-anchor="middle">300</text>
<text transform="translate(1678.7,1564.6) scale(0.961,1)" font-size="58.6" text-anchor="middle">400</text>
<text transform="translate(2049.2,1564.6) scale(0.961,1)" font-size="58.6" text-anchor="middle">500</text>
<text transform="translate(174.5,1477.9) scale(0.961,1)" font-size="58.6" text-anchor="end">5</text>
<text transform="translate(174.5,1234.5) scale(0.961,1)" font-size="58.6" text-anchor="end">10</text>
<text transform="translate(174.5,991.2) scale(0.961,1)" font-size="58.6" text-anchor="end">15</text>
<text transform="translate(174.5,747.8) scale(0.961,1)" font-size="58.6" text-anchor="end">20</text>
<text transform="translate(174.5,504.4) scale(0.961,1)" font-size="58.6" text-anchor="end">25</text>
<text transform="translate(174.5,261.1) scale(0.961,1)" font-size="58.6" text-anchor="end">30</text>
<text transform="translate(1124.5,1648.7) scale(0.971,1)" font-size="64.5" text-anchor="middle">Episodes</text>
<text transform="translate(80.0,753.5) rotate(-90) scale(0.971,1)" font-size="64.5" text-anchor="middle" xml:space="preserve" style="white-space:pre">Average  SINR  per CPI</text>
</g>
<text transform="translate(1081.0,1762.0) scale(0.940,1)" font-family="'Liberation Serif', 'Times New Roman', serif" font-size="72.8" text-anchor="middle" fill="#000">(<tspan font-weight="bold">a</tspan>)</text>
</g>
<!-- (b) -->
<g>
<line x1="568.0" y1="1918.7" x2="568.0" y2="3379.3" stroke="#262626" stroke-opacity="0.15" stroke-width="3"/>
<line x1="938.5" y1="1918.7" x2="938.5" y2="3379.3" stroke="#262626" stroke-opacity="0.15" stroke-width="3"/>
<line x1="1309.0" y1="1918.7" x2="1309.0" y2="3379.3" stroke="#262626" stroke-opacity="0.15" stroke-width="3"/>
<line x1="1679.5" y1="1918.7" x2="1679.5" y2="3379.3" stroke="#262626" stroke-opacity="0.15" stroke-width="3"/>
<line x1="197.5" y1="3087.2" x2="2050.0" y2="3087.2" stroke="#262626" stroke-opacity="0.15" stroke-width="3"/>
<line x1="197.5" y1="2795.1" x2="2050.0" y2="2795.1" stroke="#262626" stroke-opacity="0.15" stroke-width="3"/>
<line x1="197.5" y1="2502.9" x2="2050.0" y2="2502.9" stroke="#262626" stroke-opacity="0.15" stroke-width="3"/>
<line x1="197.5" y1="2210.8" x2="2050.0" y2="2210.8" stroke="#262626" stroke-opacity="0.15" stroke-width="3"/>
<line x1="568.0" y1="3379.3" x2="568.0" y2="3358.9" stroke="#262626" stroke-width="3"/>
<line x1="568.0" y1="1918.7" x2="568.0" y2="1939.1" stroke="#262626" stroke-width="3"/>
<line x1="938.5" y1="3379.3" x2="938.5" y2="3358.9" stroke="#262626" stroke-width="3"/>
<line x1="938.5" y1="1918.7" x2="938.5" y2="1939.1" stroke="#262626" stroke-width="3"/>
<line x1="1309.0" y1="3379.3" x2="1309.0" y2="3358.9" stroke="#262626" stroke-width="3"/>
<line x1="1309.0" y1="1918.7" x2="1309.0" y2="1939.1" stroke="#262626" stroke-width="3"/>
<line x1="1679.5" y1="3379.3" x2="1679.5" y2="3358.9" stroke="#262626" stroke-width="3"/>
<line x1="1679.5" y1="1918.7" x2="1679.5" y2="1939.1" stroke="#262626" stroke-width="3"/>
<line x1="197.5" y1="3087.2" x2="217.9" y2="3087.2" stroke="#262626" stroke-width="3"/>
<line x1="2050.0" y1="3087.2" x2="2029.6" y2="3087.2" stroke="#262626" stroke-width="3"/>
<line x1="197.5" y1="2795.1" x2="217.9" y2="2795.1" stroke="#262626" stroke-width="3"/>
<line x1="2050.0" y1="2795.1" x2="2029.6" y2="2795.1" stroke="#262626" stroke-width="3"/>
<line x1="197.5" y1="2502.9" x2="217.9" y2="2502.9" stroke="#262626" stroke-width="3"/>
<line x1="2050.0" y1="2502.9" x2="2029.6" y2="2502.9" stroke="#262626" stroke-width="3"/>
<line x1="197.5" y1="2210.8" x2="217.9" y2="2210.8" stroke="#262626" stroke-width="3"/>
<line x1="2050.0" y1="2210.8" x2="2029.6" y2="2210.8" stroke="#262626" stroke-width="3"/>
<rect x="197.5" y="1918.7" width="1852.5" height="1460.6" fill="none" stroke="#262626" stroke-width="2.5"/>
<polyline points="197.5,3101.8 201.2,3106.8 204.9,3114.2 208.7,3127.8 212.4,3137.1 216.1,3121.7 219.8,3107.4 223.5,3143.9 227.2,3174.8 230.9,3296.0 234.6,3283.6 238.3,3267.5 242.0,3186.5 245.7,3180.7 249.4,3174.8 253.1,3157.3 256.8,3142.7 260.5,3113.5 264.2,3075.5 267.9,3017.1 271.6,3011.2 274.5,2980.1 276.5,2965.0 279.6,2927.9 283.8,2924.2 286.8,2920.4 288.9,2885.9 292.0,2851.2 297.1,2856.2 301.3,2833.9 305.4,2809.1 308.5,2754.7 312.6,2796.8 319.8,2794.3 322.9,2768.4 327.0,2762.2 332.2,2764.6 334.2,2715.2 338.4,2705.3 342.1,2737.5 345.6,2673.1 349.1,2658.3 352.8,2697.9 354.9,2702.8 359.0,2648.4 365.2,2658.3 367.2,2603.9 371.3,2598.9 378.5,2634.8 382.6,2553.2 386.8,2579.2 389.9,2548.2 394.0,2556.9 397.7,2590.3 401.2,2566.8 405.3,2524.7 408.4,2523.5 412.1,2580.4 415.6,2512.4 419.7,2542.1 422.8,2513.6 427.0,2528.5 427.2,2527.7 431.0,2511.2 434.7,2494.7 438.3,2493.0 442.0,2494.7 445.7,2477.4 449.4,2527.2 453.1,2478.2 456.8,2460.9 460.5,2533.0 464.3,2453.5 467.9,2434.1 471.6,2447.3 475.7,2416.3 477.8,2408.9 480.9,2407.7 484.0,2416.3 487.1,2404.0 491.2,2404.0 494.3,2413.8 497.8,2426.2 501.1,2365.6 505.6,2413.8 509.8,2379.2 512.8,2354.5 515.9,2339.6 520.1,2349.5 523.1,2353.3 527.3,2334.7 531.4,2353.3 533.4,2324.8 538.6,2323.6 540.7,2292.7 543.7,2291.4 546.4,2319.8 549.3,2269.2 553.0,2275.4 556.1,2280.3 560.2,2277.8 563.7,2259.3 567.9,2292.7 571.6,2275.4 574.7,2255.6 578.8,2254.3 582.9,2265.4 586.0,2250.6 590.1,2246.9 594.2,2280.3 597.8,2219.7 601.5,2243.2 605.6,2253.1 608.6,2225.9 613.8,2227.1 615.9,2191.2 620.0,2211.1 624.1,2223.4 627.2,2240.7 631.3,2213.5 634.4,2208.6 638.5,2206.1 641.6,2198.7 645.7,2212.3 649.9,2193.8 653.0,2181.4 657.1,2178.9 661.2,2203.6 664.3,2208.6 667.4,2211.1 671.5,2192.5 675.6,2206.1 679.1,2227.1 682.8,2206.1 686.5,2185.1 690.0,2214.7 694.2,2193.8 698.3,2193.8 702.4,2198.7 705.5,2219.7 709.6,2181.4 712.7,2164.1 716.2,2156.7 719.9,2178.9 724.1,2166.5 727.1,2127.0 730.6,2169.0 734.4,2169.0 735.2,2170.1 738.2,2180.0 742.8,2175.1 746.1,2182.5 749.6,2181.2 753.1,2188.6 756.8,2170.1 759.9,2142.9 764.0,2135.5 767.1,2172.6 771.8,2177.5 776.4,2152.8 779.4,2133.0 783.1,2108.3 785.6,2157.7 790.4,2161.5 793.9,2114.4 798.0,2133.0 801.5,2203.5 805.2,2120.6 809.3,2167.6 812.4,2118.2 816.1,2107.8 819.6,2157.7 823.8,2176.3 826.8,2134.2 832.0,2133.0 835.1,2113.2 839.2,2123.1 842.3,2145.4 845.4,2147.8 849.5,2157.7 853.6,2128.0 856.7,2110.7 860.2,2142.9 864.5,2118.2 868.1,2140.4 872.2,2147.8 875.9,2086.0 879.4,2113.2 882.5,2140.4 887.6,2115.7 890.7,2115.7 893.8,2136.7 897.9,2130.5 901.0,2108.3 905.2,2144.1 909.3,2120.6 913.4,2120.6 916.5,2114.4 920.6,2130.5 923.7,2140.4 927.2,2146.6 931.9,2133.0 935.0,2105.8 938.1,2138.0 942.2,2133.0 945.3,2157.7 949.4,2140.4 953.5,2166.4 957.3,2099.6 962.8,2119.4 968.0,2112.0 971.5,2128.0 975.2,2134.2 979.3,2123.1 984.5,2130.5 987.6,2130.5 990.6,2118.2 993.7,2140.4 997.9,2125.6 1001.6,2123.1 1005.1,2149.1 1009.2,2098.4 1013.3,2088.5 1013.7,2088.5 1016.2,2145.4 1021.3,2142.9 1027.5,2138.0 1030.6,2100.9 1035.8,2128.0 1040.9,2135.5 1046.1,2161.5 1049.1,2130.5 1053.3,2140.4 1057.0,2121.8 1060.5,2152.8 1064.6,2130.5 1068.7,2130.5 1071.8,2139.2 1075.5,2098.4 1080.1,2113.2 1083.1,2140.4 1086.7,2154.0 1090.4,2118.2 1094.1,2107.0 1097.6,2161.5 1101.7,2152.8 1105.2,2097.1 1108.9,2118.2 1112.0,2128.0 1115.1,2147.8 1119.8,2151.5 1123.3,2133.0 1127.5,2131.8 1131.6,2140.4 1135.7,2124.4 1138.8,2121.8 1141.9,2157.7 1146.0,2115.7 1150.1,2115.7 1154.2,2133.0 1157.3,2160.2 1160.8,2155.3 1164.5,2175.1 1169.7,2118.2 1173.8,2112.0 1177.9,2110.7 1183.1,2114.4 1186.8,2138.0 1190.7,2116.9 1194.4,2130.5 1198.5,2130.5 1201.6,2138.0 1204.7,2149.1 1208.8,2139.2 1213.0,2133.0 1216.0,2119.4 1220.2,2130.5 1224.3,2113.2 1228.4,2123.1 1232.5,2140.4 1237.7,2152.8 1242.4,2090.9 1245.9,2118.2 1249.0,2145.4 1254.2,2113.2 1257.2,2135.5 1260.4,2093.4 1265.5,2098.4 1267.5,2129.3 1271.7,2116.9 1276.8,2128.0 1282.0,2129.3 1287.1,2118.2 1291.3,2128.0 1294.1,2128.0 1297.8,2157.7 1302.4,2145.4 1306.5,2142.9 1309.0,2110.7 1313.1,2100.9 1316.8,2120.6 1320.5,2140.4 1324.0,2113.2 1327.5,2102.1 1330.8,2144.1 1335.3,2133.0 1339.5,2135.5 1342.5,2105.8 1346.7,2103.3 1349.8,2118.2 1353.5,2135.5 1358.0,2128.0 1361.1,2108.3 1364.2,2095.9 1367.9,2113.2 1372.0,2083.5 1375.5,2100.9 1379.6,2090.9 1383.1,2134.2 1386.8,2108.3 1390.5,2098.4 1394.7,2086.0 1397.5,2118.2 1402.3,2105.8 1405.4,2133.0 1409.5,2123.1 1412.6,2093.4 1416.7,2120.6 1420.9,2118.2 1423.9,2071.2 1428.0,2108.3 1431.2,2123.1 1435.3,2118.2 1439.4,2118.2 1443.5,2100.9 1449.7,2095.9 1453.8,2138.0 1457.9,2105.8 1461.0,2105.8 1464.7,2093.4 1468.2,2149.1 1472.4,2120.6 1476.5,2138.0 1479.6,2140.4 1483.7,2118.2 1487.8,2116.9 1490.9,2128.0 1493.0,2094.7 1497.1,2093.4 1501.8,2073.6 1505.3,2147.8 1509.4,2108.3 1512.5,2098.4 1516.7,2090.9 1520.4,2116.9 1523.9,2092.2 1528.0,2105.8 1531.1,2090.9 1535.2,2103.3 1538.9,2110.7 1542.4,2088.5 1546.5,2105.8 1549.6,2133.0 1553.8,2103.3 1557.5,2089.7 1560.9,2123.1 1564.1,2135.5 1568.2,2105.8 1571.9,2103.3 1573.1,2103.3 1577.2,2120.6 1580.3,2142.9 1583.4,2155.3 1586.1,2088.5 1590.6,2079.8 1594.3,2135.5 1597.8,2118.2 1600.9,2094.7 1605.4,2112.0 1609.1,2093.4 1613.3,2097.1 1618.4,2107.0 1622.6,2103.3 1626.7,2110.7 1631.2,2088.5 1635.5,2110.7 1639.0,2105.8 1642.5,2110.7 1646.2,2082.3 1649.3,2108.3 1653.5,2113.2 1657.6,2105.8 1660.6,2134.2 1664.8,2093.4 1668.5,2077.3 1672.0,2098.4 1676.1,2099.6 1679.2,2103.3 1682.9,2120.6 1687.0,2078.6 1690.5,2068.7 1693.6,2083.5 1697.8,2094.7 1701.9,2051.4 1706.0,2093.4 1709.1,2107.0 1713.2,2090.9 1716.3,2086.0 1720.0,2140.4 1724.1,2090.9 1727.6,2071.2 1731.7,2093.4 1734.9,2102.1 1740.0,2095.9 1745.2,2083.5 1749.7,2100.9 1753.4,2068.7 1757.5,2093.4 1760.6,2090.9 1764.3,2112.0 1767.8,2090.9 1770.9,2113.2 1772.5,2112.0 1775.8,2068.7 1779.9,2113.2 1785.5,2098.4 1790.2,2072.4 1793.7,2086.0 1796.8,2095.9 1801.3,2090.9 1805.4,2110.7 1810.2,2105.8 1812.8,2078.6 1816.4,2088.5 1820.5,2095.9 1824.6,2093.4 1827.7,2069.9 1831.8,2088.5 1835.5,2104.5 1840.0,2090.9 1843.1,2092.2 1846.6,2086.0 1850.4,2093.4 1853.4,2135.5 1857.6,2108.3 1860.7,2088.5 1864.8,2086.0 1868.9,2100.9 1872.0,2112.0 1876.1,2103.3 1880.2,2109.5 1883.3,2088.5 1887.5,2083.5 1890.5,2095.9 1894.2,2066.2 1898.2,2125.6 1901.9,2105.8 1904.9,2115.7 1908.5,2098.4 1912.2,2094.7 1916.3,2109.5 1920.4,2099.6 1924.5,2108.3 1927.6,2125.6 1931.7,2108.3 1936.9,2107.0 1941.0,2105.8 1945.1,2098.4 1948.2,2090.9 1952.3,2088.5 1957.5,2092.2 1961.6,2097.1 1964.7,2086.0 1968.8,2100.9 1970.9,2108.3 1976.0,2109.5 1979.1,2107.0 1983.3,2119.4 1987.4,2103.3 1991.5,2090.9 1994.6,2086.0 1998.3,2084.7 2001.8,2114.4 2005.9,2108.3 2008.6,2088.5 2012.1,2090.9 2016.2,2083.5 2019.3,2109.5 2024.5,2109.5 2028.6,2108.3 2031.3,2079.8 2034.8,2108.3 2038.9,2139.2 2043.0,2084.7 2046.3,2098.4" fill="none" stroke="#0000ff" stroke-width="8.8" stroke-linejoin="round" stroke-linecap="butt"/>
<polyline points="197.5,3048.4 201.2,3035.5 204.9,3034.5 208.6,3038.0 212.3,3027.3 216.0,3022.9 219.7,3027.8 223.4,3027.0 227.1,3235.0 230.8,3272.0 234.6,3238.0 238.3,3200.0 242.0,3140.0 245.7,3062.0 249.4,3050.0 253.1,3039.0 256.8,3031.0 260.5,3008.0 261.1,3003.0 264.2,2982.4 268.3,2961.8 271.4,2955.6 276.5,2957.7 280.7,2968.0 284.8,2978.3 288.9,2937.1 293.0,2947.4 297.1,2961.8 301.3,2968.0 307.4,2963.8 311.6,2947.4 315.7,2912.4 321.9,2900.0 327.0,2930.9 332.2,2900.0 334.2,2883.2 338.4,2879.1 342.5,2854.4 346.6,2840.0 349.7,2854.4 352.8,2871.9 355.9,2835.8 361.0,2829.6 364.1,2788.5 369.3,2792.6 373.4,2784.4 376.5,2788.5 379.6,2799.8 384.7,2772.0 387.8,2763.7 392.9,2753.5 396.1,2747.3 400.2,2752.4 403.2,2718.4 408.4,2718.4 412.5,2701.9 416.7,2697.8 419.7,2709.1 423.9,2685.5 427.0,2664.8 431.1,2681.3 435.2,2660.7 440.3,2633.9 446.5,2631.9 451.7,2627.7 455.8,2611.3 459.9,2609.2 464.0,2592.7 468.2,2598.9 474.3,2596.8 476.2,2599.9 480.3,2591.5 484.4,2589.4 488.5,2570.9 492.7,2550.3 495.8,2521.4 500.9,2566.7 506.1,2570.9 510.2,2542.0 512.6,2585.3 516.4,2550.3 518.4,2523.5 522.5,2546.2 527.7,2537.9 531.8,2521.4 536.0,2513.2 539.0,2524.5 543.1,2515.3 547.3,2511.1 551.4,2494.6 556.6,2496.7 560.7,2499.8 564.8,2484.4 568.9,2478.2 572.0,2457.5 575.5,2482.3 579.2,2467.9 582.3,2455.5 586.4,2475.1 590.5,2463.7 593.6,2427.7 597.8,2447.3 601.9,2468.9 603.9,2397.8 608.1,2437.0 612.2,2437.0 616.3,2432.8 619.4,2422.5 623.5,2446.2 627.6,2416.4 631.3,2395.7 634.8,2408.1 639.0,2414.3 645.1,2426.6 649.7,2448.3 653.4,2412.2 656.5,2426.6 660.6,2398.8 664.7,2429.7 668.9,2422.5 673.0,2414.3 676.0,2410.2 679.6,2427.7 683.3,2406.1 687.0,2399.9 690.5,2412.2 694.6,2426.6 698.7,2416.4 703.9,2421.5 709.0,2422.5 713.1,2430.8 716.2,2441.1 720.3,2426.6 723.4,2397.8 727.5,2385.4 731.7,2382.4 734.8,2417.3 738.9,2418.4 742.4,2420.4 746.1,2379.3 749.8,2374.1 753.1,2406.1 757.2,2391.6 760.3,2390.6 764.0,2415.3 767.5,2410.2 770.6,2408.1 775.1,2434.9 777.8,2369.0 781.9,2432.8 786.0,2385.4 790.2,2430.8 793.7,2385.4 797.4,2395.7 801.5,2411.2 805.2,2381.3 808.7,2406.1 811.8,2419.5 815.9,2420.4 820.1,2392.6 824.2,2399.9 828.3,2400.9 831.4,2399.9 834.5,2413.3 838.6,2414.3 842.7,2408.1 845.8,2401.9 848.9,2410.2 853.0,2387.5 857.1,2426.6 861.3,2410.2 864.4,2385.4 867.4,2374.1 871.6,2377.2 875.7,2365.9 879.4,2417.3 882.9,2381.3 886.4,2371.0 890.5,2425.6 894.2,2410.2 898.3,2395.7 902.5,2392.6 906.6,2400.9 909.7,2399.9 912.8,2333.9 916.9,2375.1 920.0,2389.5 925.1,2387.5 928.2,2377.2 931.3,2374.1 934.4,2395.7 938.5,2364.8 942.6,2381.3 945.7,2406.1 949.9,2397.8 954.0,2385.4 957.1,2379.3 960.6,2447.3 964.3,2406.1 968.4,2412.2 972.5,2344.2 976.7,2356.6 979.7,2364.8 982.8,2397.8 987.0,2356.6 990.0,2344.2 993.1,2379.3 997.3,2369.0 1001.4,2392.6 1005.5,2373.1 1009.6,2383.4 1013.7,2373.1 1017.9,2375.1 1023.0,2406.1 1027.1,2369.0 1031.2,2389.5 1032.5,2389.5 1036.2,2364.8 1039.3,2344.2 1042.4,2383.4 1046.1,2340.1 1049.6,2375.1 1052.7,2389.5 1056.8,2398.8 1060.9,2356.6 1064.6,2336.0 1068.1,2385.4 1071.2,2408.1 1075.3,2409.1 1079.4,2377.2 1083.1,2379.3 1086.7,2371.0 1090.2,2387.5 1094.3,2364.8 1098.0,2373.1 1102.1,2375.1 1105.2,2401.9 1109.3,2385.4 1112.4,2386.4 1116.5,2379.3 1120.2,2374.1 1123.8,2385.4 1126.8,2397.8 1131.0,2375.1 1135.1,2353.5 1138.2,2385.4 1142.3,2407.1 1146.4,2385.4 1149.5,2369.0 1153.6,2354.5 1157.8,2351.4 1161.9,2375.1 1164.9,2383.4 1170.1,2379.3 1175.2,2386.4 1178.4,2371.0 1182.5,2364.8 1186.6,2389.5 1189.7,2344.2 1192.8,2331.9 1195.8,2350.4 1199.0,2348.4 1202.0,2371.0 1205.1,2382.4 1209.3,2360.7 1213.4,2375.1 1216.5,2389.5 1220.6,2366.9 1223.7,2369.0 1227.8,2364.8 1231.9,2377.2 1235.4,2383.4 1238.5,2338.1 1242.2,2340.1 1245.9,2375.1 1249.4,2358.6 1252.5,2345.3 1256.6,2348.4 1260.8,2360.7 1264.9,2344.2 1269.0,2350.4 1272.1,2340.1 1275.2,2375.1 1279.3,2344.2 1283.0,2315.4 1286.5,2344.2 1290.7,2393.7 1294.8,2375.1 1298.9,2362.8 1303.0,2356.6 1309.2,2352.5 1313.3,2384.4 1313.7,2383.4 1317.8,2307.2 1322.0,2352.5 1325.5,2350.4 1330.6,2371.0 1334.7,2354.5 1338.9,2366.9 1341.9,2331.9 1345.0,2325.7 1348.1,2354.5 1353.3,2356.6 1357.4,2348.4 1360.5,2364.8 1364.2,2394.7 1367.7,2344.2 1371.8,2338.1 1375.5,2381.3 1379.0,2327.7 1383.1,2366.9 1387.2,2339.1 1390.4,2375.1 1394.5,2396.8 1397.6,2369.0 1401.7,2373.1 1405.8,2320.5 1409.9,2375.1 1413.0,2399.9 1417.1,2379.3 1422.3,2385.4 1425.4,2371.0 1428.5,2344.2 1431.6,2332.9 1435.3,2362.8 1438.8,2374.1 1442.9,2344.2 1447.0,2371.0 1450.1,2377.2 1453.2,2352.5 1457.3,2350.4 1461.5,2325.7 1464.5,2366.9 1468.6,2348.4 1471.8,2342.2 1475.9,2352.5 1480.0,2351.4 1483.1,2364.8 1487.2,2356.6 1490.3,2385.4 1494.4,2383.4 1497.9,2331.9 1501.2,2395.7 1504.7,2395.7 1508.8,2327.7 1513.0,2379.3 1517.1,2354.5 1520.1,2352.5 1524.3,2379.3 1528.0,2327.7 1531.5,2379.3 1534.6,2391.6 1538.7,2381.3 1542.8,2364.8 1545.9,2360.7 1550.0,2373.1 1554.2,2350.4 1557.2,2340.1 1560.3,2336.0 1564.5,2366.9 1568.6,2316.4 1572.7,2352.5 1576.8,2348.4 1579.9,2360.7 1583.6,2372.1 1587.1,2352.5 1590.6,2332.9 1594.1,2366.9 1598.2,2333.9 1602.0,2327.7 1605.4,2348.4 1609.6,2366.9 1612.7,2369.0 1616.8,2375.1 1620.5,2330.8 1624.0,2350.4 1627.5,2358.6 1631.2,2345.3 1635.3,2354.5 1639.4,2340.1 1642.5,2327.7 1646.7,2352.5 1650.8,2358.6 1654.9,2344.2 1658.0,2336.0 1661.1,2331.9 1664.6,2361.7 1669.3,2348.4 1672.4,2344.2 1676.5,2356.6 1679.6,2331.9 1682.7,2369.0 1686.4,2364.8 1690.5,2380.3 1694.1,2364.8 1697.1,2352.5 1702.3,2350.4 1705.4,2323.6 1708.5,2315.4 1712.6,2367.9 1715.7,2313.3 1719.8,2305.1 1722.9,2327.7 1727.0,2338.1 1731.1,2375.1 1735.3,2344.2 1739.4,2342.2 1742.5,2362.8 1746.6,2364.8 1750.3,2366.9 1753.8,2339.1 1757.9,2362.8 1763.1,2348.4 1767.6,2342.2 1771.7,2357.6 1775.4,2352.5 1779.6,2344.2 1783.7,2340.1 1786.8,2385.4 1790.9,2336.0 1795.0,2366.9 1798.1,2340.1 1802.2,2342.2 1805.3,2359.7 1809.4,2338.1 1813.5,2327.7 1816.7,2322.6 1820.8,2344.2 1823.7,2356.6 1828.3,2336.0 1833.4,2333.9 1836.5,2366.9 1840.2,2301.0 1843.1,2344.2 1845.7,2388.5 1849.9,2348.4 1853.0,2373.1 1856.7,2342.2 1861.2,2396.8 1865.3,2340.1 1869.5,2346.3 1872.5,2344.2 1876.1,2326.7 1879.8,2344.2 1883.9,2348.4 1887.0,2351.4 1891.1,2336.0 1895.2,2335.0 1899.3,2336.0 1903.4,2344.2 1907.6,2336.0 1910.7,2326.7 1913.8,2325.7 1916.4,2385.4 1919.9,2375.1 1923.0,2323.6 1927.1,2323.6 1930.2,2342.2 1934.4,2349.4 1938.5,2324.6 1942.6,2344.2 1946.7,2346.3 1950.9,2346.3 1953.9,2364.8 1957.4,2383.4 1961.2,2315.4 1965.3,2333.9 1967.9,2354.5 1972.5,2344.2 1976.0,2367.9 1979.7,2352.5 1983.8,2364.8 1987.3,2323.6 1990.6,2309.2 1994.7,2350.4 1999.2,2340.1 2003.4,2338.1 2006.5,2336.0 2009.1,2369.0 2013.1,2325.7 2016.8,2362.8 2020.9,2331.9 2024.0,2333.9 2027.7,2352.5 2031.2,2311.3 2034.9,2306.1 2038.4,2344.2 2042.5,2382.8 2046.4,2337.0" fill="none" stroke="#ff00ff" stroke-width="8.8" stroke-linejoin="round" stroke-linecap="butt"/>
<polyline points="197.5,3085.0 201.2,3062.8 204.9,3047.0 208.6,3091.6 212.3,3061.8 216.0,3043.5 219.7,3065.9 223.4,3070.0 227.1,3200.0 230.8,3263.0 234.6,3227.0 238.3,3195.0 242.0,3160.0 245.7,3125.0 249.4,3170.0 253.1,3085.0 256.8,3039.0 262.1,3036.0 266.2,3003.0 270.3,3023.6 274.5,2970.0 278.6,2994.8 282.7,2930.9 286.8,2920.6 291.0,2914.4 295.1,2912.4 301.3,2937.1 305.4,2920.6 308.5,2891.5 313.6,2893.6 317.8,2866.7 321.9,2854.4 327.0,2823.5 331.1,2850.3 334.8,2875.0 337.3,2829.6 342.5,2825.6 346.6,2821.4 351.7,2800.8 355.9,2804.9 359.0,2796.7 364.1,2784.4 369.3,2765.8 373.4,2761.7 377.5,2753.5 382.6,2753.5 386.8,2765.8 388.8,2728.7 392.9,2724.6 397.1,2695.7 400.2,2697.8 405.3,2706.0 410.5,2671.0 415.6,2662.8 419.7,2679.3 422.8,2646.3 429.0,2652.4 434.2,2675.1 441.4,2677.2 445.5,2656.6 449.2,2638.1 453.7,2656.6 456.8,2663.8 460.3,2625.7 465.1,2644.2 468.2,2661.7 471.3,2603.0 474.1,2581.2 478.2,2577.1 482.4,2554.4 486.1,2546.2 490.6,2542.0 494.7,2540.0 497.8,2515.3 500.9,2513.2 505.4,2556.5 508.7,2467.9 513.3,2490.5 519.5,2494.6 524.0,2497.7 527.3,2548.2 531.8,2504.9 536.0,2478.2 541.1,2452.4 545.2,2498.8 549.3,2447.3 553.0,2424.6 557.6,2494.6 561.7,2441.1 565.8,2467.9 568.9,2447.3 573.0,2430.8 577.2,2422.5 581.3,2406.1 586.4,2374.1 590.5,2395.7 593.6,2408.1 598.8,2400.9 602.9,2398.8 606.0,2416.4 609.7,2430.8 614.2,2410.2 617.3,2408.1 622.5,2371.0 626.6,2379.3 630.7,2375.1 634.8,2362.8 639.0,2362.8 642.1,2413.3 646.2,2364.8 649.7,2340.1 653.4,2356.6 656.5,2347.3 660.6,2360.7 664.7,2366.9 667.8,2354.5 671.9,2410.2 676.0,2348.4 680.2,2342.2 683.3,2337.0 687.4,2354.5 690.5,2381.3 694.6,2373.1 697.7,2372.1 701.8,2337.0 705.9,2352.5 708.6,2362.8 712.1,2338.1 716.2,2351.4 720.3,2331.9 725.5,2333.9 730.6,2338.1 734.8,2318.5 738.9,2327.7 743.0,2318.5 746.1,2333.9 749.2,2361.7 753.1,2321.6 757.2,2331.9 760.3,2344.2 764.4,2348.4 767.5,2350.4 771.6,2326.7 775.7,2348.4 779.9,2352.5 783.0,2364.8 786.7,2366.9 790.2,2318.5 794.3,2340.1 797.4,2352.5 801.1,2356.6 805.2,2305.1 809.8,2317.4 812.8,2344.2 815.9,2348.4 820.1,2297.9 824.2,2331.9 827.9,2327.7 831.4,2321.6 834.9,2292.7 839.0,2307.2 842.1,2370.0 845.8,2331.9 849.9,2348.4 853.7,2315.4 857.1,2293.7 861.3,2309.2 864.4,2340.1 867.8,2354.5 872.2,2295.8 876.1,2338.1 880.9,2331.9 883.9,2323.6 887.0,2296.8 890.5,2283.4 894.2,2324.6 897.9,2292.7 901.9,2291.7 905.6,2307.2 909.7,2313.3 914.8,2320.5 920.0,2292.7 923.1,2315.4 926.8,2325.7 930.9,2338.1 934.4,2307.2 938.5,2317.4 942.6,2301.0 946.2,2329.8 950.9,2328.8 955.0,2315.4 960.2,2309.2 964.3,2359.7 968.0,2314.3 971.5,2331.9 975.6,2319.5 978.7,2342.2 982.8,2315.4 987.0,2304.1 990.0,2327.7 993.7,2342.2 997.3,2292.7 1001.4,2269.0 1005.5,2282.4 1008.6,2292.7 1012.7,2305.1 1016.8,2279.4 1019.9,2314.3 1024.0,2262.8 1028.2,2282.4 1031.2,2346.3 1032.5,2346.3 1036.2,2282.4 1039.3,2280.3 1042.8,2278.3 1046.1,2331.9 1049.6,2301.0 1052.7,2311.3 1055.8,2311.3 1060.5,2327.7 1064.0,2280.3 1068.1,2307.2 1071.2,2303.0 1075.7,2349.4 1079.4,2268.0 1083.1,2261.8 1086.7,2288.6 1090.8,2290.7 1094.3,2353.5 1099.0,2344.2 1102.1,2309.2 1105.2,2282.4 1108.7,2274.2 1112.4,2320.5 1116.5,2320.5 1119.6,2287.6 1123.8,2307.2 1126.8,2282.4 1131.0,2261.8 1135.1,2314.3 1139.2,2274.2 1142.3,2272.1 1146.4,2282.4 1149.1,2309.2 1153.6,2286.5 1157.3,2278.3 1160.8,2303.0 1164.9,2298.9 1168.1,2320.5 1172.2,2295.8 1176.3,2309.2 1180.4,2319.5 1183.5,2336.0 1187.0,2337.0 1190.3,2271.1 1194.8,2296.8 1198.6,2286.5 1202.0,2323.6 1205.1,2327.7 1209.3,2305.1 1213.4,2303.0 1216.5,2299.9 1220.6,2311.3 1224.7,2292.7 1227.8,2290.7 1231.5,2307.2 1234.6,2321.6 1239.1,2318.5 1243.3,2305.1 1246.3,2303.0 1249.4,2317.4 1253.6,2285.5 1256.6,2307.2 1260.4,2313.3 1264.9,2292.7 1268.4,2281.4 1272.1,2305.1 1275.2,2305.1 1279.3,2282.4 1283.0,2272.1 1286.5,2288.6 1289.6,2290.7 1293.7,2322.6 1297.8,2286.5 1302.0,2284.5 1306.1,2303.0 1309.2,2308.2 1313.1,2282.4 1316.6,2264.9 1320.3,2278.3 1323.4,2312.3 1327.5,2292.7 1331.6,2303.0 1334.7,2330.8 1338.4,2275.2 1341.9,2307.2 1345.5,2315.4 1349.2,2286.5 1353.7,2353.5 1358.4,2307.2 1361.5,2305.1 1364.6,2326.7 1368.7,2280.3 1372.8,2292.7 1375.9,2307.2 1379.0,2309.2 1382.5,2287.6 1386.7,2322.6 1390.4,2307.2 1394.1,2302.0 1398.2,2323.6 1401.1,2271.1 1405.2,2305.1 1408.9,2280.3 1412.6,2303.0 1416.1,2292.7 1420.2,2301.0 1423.3,2324.6 1427.4,2307.2 1431.6,2303.0 1435.3,2315.4 1438.8,2321.6 1442.9,2298.9 1446.0,2278.3 1450.1,2264.9 1454.2,2286.5 1457.3,2302.0 1461.5,2303.0 1464.5,2293.7 1468.6,2292.7 1472.4,2296.8 1475.9,2262.8 1480.0,2292.7 1483.1,2309.2 1486.6,2271.1 1490.3,2282.4 1494.4,2268.0 1498.5,2292.7 1501.6,2305.1 1505.3,2276.3 1508.8,2296.8 1511.9,2296.8 1516.0,2280.3 1520.1,2278.3 1524.3,2280.3 1527.4,2292.7 1530.9,2263.9 1534.6,2296.8 1538.3,2269.0 1541.8,2290.7 1545.9,2291.7 1550.0,2291.7 1553.1,2286.5 1556.8,2253.6 1560.3,2290.7 1563.4,2292.7 1567.1,2284.5 1571.3,2309.2 1575.4,2256.7 1578.9,2286.5 1582.0,2296.8 1585.1,2265.9 1589.2,2303.0 1593.3,2280.3 1594.1,2282.4 1597.8,2272.1 1601.3,2313.3 1605.4,2292.7 1609.6,2268.0 1612.7,2260.8 1616.4,2298.9 1620.5,2290.7 1624.0,2253.6 1628.1,2282.4 1631.2,2282.4 1634.9,2277.2 1638.4,2297.9 1642.5,2272.1 1646.0,2262.8 1649.7,2281.4 1653.9,2265.9 1657.6,2248.4 1661.1,2303.0 1664.6,2321.6 1669.3,2307.2 1672.4,2278.3 1676.5,2276.3 1679.6,2312.3 1683.8,2275.2 1686.8,2288.6 1690.5,2309.2 1694.1,2290.7 1698.2,2272.1 1701.7,2265.9 1705.4,2296.8 1709.1,2316.4 1713.6,2307.2 1716.7,2282.4 1720.2,2274.2 1723.9,2292.7 1727.6,2296.8 1731.7,2272.1 1735.3,2265.9 1738.8,2284.5 1742.5,2298.9 1746.6,2284.5 1750.3,2270.1 1753.8,2265.9 1757.3,2288.6 1760.6,2312.3 1764.7,2276.3 1768.2,2301.0 1772.3,2269.0 1776.5,2304.1 1780.6,2292.7 1783.7,2296.8 1786.8,2319.5 1790.9,2299.9 1796.1,2316.4 1800.2,2286.5 1805.3,2255.6 1809.4,2310.3 1812.5,2282.4 1816.0,2271.1 1819.7,2282.4 1823.7,2303.0 1827.2,2282.4 1831.3,2275.2 1835.4,2284.5 1838.6,2286.5 1842.3,2281.4 1845.7,2303.0 1849.9,2282.4 1854.0,2270.1 1857.7,2265.9 1861.2,2290.7 1864.3,2275.2 1868.4,2304.1 1872.5,2274.2 1875.6,2270.1 1879.8,2255.6 1883.5,2297.9 1887.0,2263.9 1891.1,2278.3 1894.2,2265.9 1897.9,2296.8 1901.4,2269.0 1905.5,2282.4 1909.0,2264.9 1912.7,2278.3 1916.8,2277.2 1919.9,2292.7 1924.1,2295.8 1928.2,2292.7 1932.3,2289.6 1935.4,2294.8 1938.5,2290.7 1942.0,2303.0 1946.7,2295.8 1949.8,2292.7 1952.9,2301.0 1956.4,2271.1 1960.1,2282.4 1964.2,2281.4 1967.9,2276.3 1972.5,2290.7 1976.0,2304.1 1979.7,2286.5 1983.8,2282.4 1987.3,2265.9 1991.0,2257.7 1994.7,2282.4 1998.2,2317.4 2002.4,2282.4 2005.8,2267.0 2009.6,2303.0 2013.7,2307.2 2017.2,2286.5 2020.3,2312.3 2024.0,2298.9 2027.1,2282.4 2031.2,2263.9 2035.3,2286.5 2039.4,2276.3 2042.5,2314.6 2046.4,2282.4" fill="none" stroke="#00ffff" stroke-width="8.8" stroke-linejoin="round" stroke-linecap="butt"/>
<polyline points="197.5,3189.0 201.2,3209.0 204.9,3160.0 208.6,3152.4 212.3,3232.0 216.0,3163.0 219.7,3167.0 223.4,3159.7 227.1,3297.3 230.8,3205.0 234.6,3155.0 238.3,3103.0 242.0,3078.0 245.7,3062.0 249.6,3082.3 253.3,3104.0 257.0,3106.1 260.7,3134.9 264.4,3122.5 268.1,3157.6 271.8,3160.6 275.5,3149.3 279.2,3188.5 282.9,3183.3 286.6,3194.6 290.3,3209.1 294.1,3209.1 297.1,3194.6 301.3,3200.8 305.0,3200.8 308.7,3211.1 312.4,3182.3 316.1,3200.8 319.8,3190.5 323.5,3192.6 327.2,3182.3 330.9,3211.1 334.7,3185.4 338.4,3201.9 342.1,3196.7 345.8,3182.3 349.5,3184.3 351.7,3147.2 355.9,3132.8 360.6,3125.6 364.3,3147.2 367.6,3120.5 371.3,3122.5 375.0,3112.2 379.6,3118.4 383.3,3097.8 387.0,3089.6 389.9,3023.6 394.0,3059.7 398.1,3034.0 402.2,3027.8 405.9,3023.6 408.4,2993.8 413.6,2998.9 416.7,2961.8 419.7,2912.4 423.9,2941.2 427.0,2879.1 431.1,2891.5 434.8,2889.4 438.3,2829.6 442.0,2809.1 445.7,2757.6 449.4,2743.1 453.1,2809.1 456.8,2897.7 460.5,2837.9 464.3,2885.3 468.0,2778.2 471.7,2702.9 472.5,2700.4 475.2,2710.7 478.2,2762.2 482.4,2758.1 486.1,2698.4 489.6,2745.8 492.7,2721.0 495.8,2745.8 500.9,2692.2 505.4,2786.9 508.1,2721.0 512.2,2739.6 516.4,2712.8 519.5,2696.3 523.2,2754.0 526.7,2696.3 530.8,2714.8 534.9,2731.3 538.0,2766.4 542.1,2784.9 546.3,2729.3 549.7,2707.6 553.4,2756.0 557.0,2773.6 560.7,2710.7 564.8,2762.2 567.9,2725.1 571.0,2677.7 575.1,2632.4 579.2,2567.5 582.3,2714.8 586.4,2747.8 589.5,2665.4 593.6,2635.5 597.8,2676.7 601.5,2617.0 605.0,2662.3 609.5,2631.4 612.2,2706.6 616.3,2675.7 617.3,2674.6 621.4,2688.0 625.6,2698.4 628.7,2718.9 630.7,2776.7 634.8,2817.8 639.0,2747.8 642.1,2727.2 646.2,2715.8 649.7,2749.8 653.4,2731.3 657.5,2725.1 660.6,2721.0 664.7,2714.8 667.8,2751.9 670.9,2714.8 673.0,2673.7 675.4,2672.6 680.2,2694.2 683.3,2694.2 686.7,2652.0 690.5,2694.2 692.5,2735.5 696.6,2725.1 699.7,2727.2 701.8,2776.7 705.3,2803.4 708.6,2780.7 713.1,2782.8 717.2,2780.7 719.3,2694.2 723.8,2668.5 727.5,2727.2 731.7,2722.0 734.8,2760.2 738.9,2758.1 743.0,2751.9 746.1,2694.2 750.2,2768.4 753.3,2795.2 753.7,2795.2 757.2,2730.4 760.3,2755.1 764.4,2724.2 768.6,2753.0 771.6,2773.6 775.7,2778.8 779.9,2740.7 783.0,2734.5 786.7,2781.9 790.2,2773.6 793.7,2737.6 797.8,2786.0 801.5,2745.8 805.6,2746.9 809.8,2754.0 812.8,2757.1 816.3,2742.7 819.0,2788.0 823.2,2795.2 826.2,2750.0 830.4,2799.4 834.9,2747.9 837.6,2831.3 841.7,2849.9 845.8,2814.8 849.5,2793.2 853.0,2849.9 857.1,2810.7 860.8,2779.8 865.4,2794.2 869.5,2825.1 873.6,2833.4 876.7,2835.4 878.8,2890.1 882.9,2882.8 886.4,2855.0 891.2,2868.4 895.3,2872.5 898.3,2876.6 902.0,2888.0 905.6,2856.1 908.6,2837.5 912.8,2847.8 914.4,2934.3 916.9,2939.5 920.6,2866.3 924.1,2891.1 926.6,2827.2 931.3,2890.1 934.8,2824.1 939.1,2854.0 942.6,2847.8 945.7,2816.9 949.9,2825.1 953.6,2830.3 957.1,2783.9 961.2,2794.2 964.3,2835.4 967.8,2938.4 972.1,2867.4 975.6,2933.3 978.7,2917.9 982.8,2903.4 985.9,2876.6 989.0,2861.2 994.1,2887.0 997.9,2855.0 1001.4,2910.6 1005.5,2905.5 1009.6,2897.2 1012.7,2878.7 1015.8,2911.7 1019.9,2923.0 1024.0,2897.2 1027.8,2883.9 1031.2,2897.2 1034.3,2913.7 1038.5,2918.9 1042.6,2915.8 1045.7,2844.7 1046.1,2844.3 1049.6,2871.0 1052.7,2881.3 1056.8,2930.8 1060.9,2903.0 1064.0,2908.1 1067.1,2942.1 1072.3,2930.8 1075.3,2971.0 1080.5,2963.7 1082.6,2926.6 1085.6,2903.0 1089.7,2897.8 1094.3,2860.7 1097.0,2959.6 1101.7,2911.2 1105.8,2937.0 1109.3,2914.3 1112.4,2913.3 1116.5,2937.0 1120.0,2851.4 1123.8,2875.2 1127.9,2890.6 1131.0,2879.2 1135.1,2875.2 1138.6,2895.7 1142.3,2871.0 1146.4,2872.1 1149.5,2855.6 1153.6,2873.1 1157.3,2803.0 1161.9,2833.9 1164.4,2886.5 1168.1,2860.7 1172.2,2835.0 1176.3,2856.6 1179.4,2893.7 1183.5,2910.2 1187.0,2915.3 1189.7,2862.8 1193.8,2856.6 1197.9,2842.1 1202.0,2860.7 1205.1,2894.7 1209.3,2864.8 1212.3,2840.1 1216.5,2864.8 1219.6,2836.0 1224.7,2839.1 1227.4,2900.9 1231.5,2874.1 1234.0,2885.4 1239.1,2880.3 1241.2,2939.0 1245.7,2952.4 1249.4,2926.6 1252.5,2881.3 1257.3,2877.2 1260.8,2907.1 1264.9,2898.8 1268.4,2915.3 1272.1,2897.8 1275.2,2842.1 1279.3,2864.8 1283.4,2863.8 1286.5,2960.6 1290.7,2937.0 1293.7,2897.8 1297.8,2894.7 1302.0,2909.2 1305.5,2859.7 1309.2,2885.4 1313.3,2916.3 1316.4,2941.1 1319.5,2825.7 1323.6,2885.4 1326.7,2819.5 1328.1,2819.5 1331.6,2897.8 1335.8,2916.3 1337.8,2950.4 1340.9,2951.4 1345.0,2943.1 1349.2,2888.5 1353.3,2906.1 1357.4,2906.1 1362.5,2888.5 1367.7,2884.4 1371.8,2859.7 1376.9,2897.8 1382.1,2904.0 1386.7,2895.7 1389.3,2922.5 1394.1,2925.6 1397.0,2875.2 1400.7,2875.2 1404.8,2888.5 1408.9,2866.9 1413.0,2885.4 1416.1,2918.4 1421.3,2916.3 1423.3,2882.3 1428.5,2885.4 1431.6,2899.9 1435.7,2894.7 1438.8,2934.9 1442.3,2972.0 1446.0,2926.6 1450.1,2909.2 1453.2,2952.4 1457.3,2953.4 1461.5,2947.3 1464.5,2918.4 1468.6,2937.0 1472.4,2959.6 1475.9,2896.8 1480.0,2945.2 1484.1,2922.5 1487.2,2893.7 1490.9,2911.2 1495.4,2911.2 1499.5,2906.1 1501.6,2854.5 1505.7,2842.1 1509.8,2875.2 1513.0,2897.8 1516.0,2911.2 1520.1,2910.2 1524.3,2901.9 1528.0,2865.9 1531.5,2885.4 1534.6,2901.9 1538.7,2903.0 1541.8,2881.3 1545.9,2881.3 1550.0,2908.1 1554.2,2913.3 1557.2,2890.6 1561.4,2901.9 1564.5,2910.2 1569.6,2906.1 1572.7,2887.5 1576.8,2889.5 1579.9,2886.5 1584.0,2895.7 1587.1,2947.3 1590.6,2981.3 1595.4,2910.2 1599.5,2899.9 1602.6,2869.0 1605.7,2848.3 1606.1,2849.4 1609.0,2949.3 1612.7,2952.4 1616.4,2937.0 1619.9,2963.7 1624.0,2971.0 1627.1,2935.9 1631.2,2934.9 1634.9,2914.3 1638.4,2964.8 1643.6,2964.8 1646.7,2955.5 1649.7,2950.4 1653.9,2972.0 1658.0,2998.8 1661.5,3040.0 1665.2,2988.4 1668.3,2967.9 1672.4,2895.7 1676.5,2964.8 1680.1,2955.5 1683.1,2921.5 1686.8,2962.7 1690.9,2947.3 1695.1,2937.0 1698.2,2932.8 1702.3,2937.0 1705.8,2924.6 1708.5,3013.2 1713.6,2998.8 1716.7,2907.1 1720.2,2977.1 1723.9,2947.3 1727.0,2937.0 1730.1,2947.3 1735.3,2903.0 1737.9,2967.9 1742.5,2943.1 1746.0,2977.1 1750.3,2959.6 1753.8,3002.9 1757.9,2988.4 1761.0,2974.0 1765.1,2960.6 1768.2,2963.7 1771.7,2948.3 1776.5,2967.9 1780.6,2961.7 1783.1,2892.6 1786.8,2937.0 1790.3,2971.0 1794.0,2934.9 1798.1,2937.0 1801.2,2926.6 1805.3,2960.6 1809.4,2926.6 1813.0,2914.3 1816.7,2947.3 1820.8,2981.3 1824.9,2957.5 1828.0,2955.5 1832.1,2969.9 1835.2,2943.1 1839.3,2926.6 1842.4,2903.0 1847.2,2925.6 1850.6,2906.1 1853.7,2893.7 1856.8,2957.5 1860.9,2981.3 1865.1,2906.1 1868.2,2926.6 1871.9,2947.3 1875.4,2926.6 1879.5,2906.1 1883.0,2892.6 1883.5,2891.6 1887.0,2926.6 1890.5,2941.1 1892.1,2885.4 1894.6,2861.7 1898.3,2922.5 1902.4,2906.1 1905.5,2937.0 1909.6,2949.3 1913.1,2959.6 1915.8,2924.6 1919.9,2923.5 1923.0,2887.5 1927.1,2889.5 1931.3,2883.4 1935.0,2937.0 1939.5,2893.7 1943.6,2918.4 1946.7,2947.3 1949.8,2976.1 1953.9,2981.3 1957.0,2937.0 1961.2,2988.4 1964.2,2930.8 1968.3,2924.6 1972.5,2917.4 1978.6,2930.8 1983.4,2916.3 1986.9,2945.2 1991.0,2957.5 1994.1,2976.1 1998.2,2982.3 2002.4,2989.5 2005.4,2949.3 2009.6,2953.4 2012.7,2942.1 2016.8,2968.9 2020.3,2888.5 2024.0,2908.1 2028.1,2955.5 2032.2,2947.3 2036.3,2941.1 2039.4,2916.3 2043.6,2898.8 2046.0,2898.8" fill="none" stroke="#ff0000" stroke-width="8.8" stroke-linejoin="round" stroke-linecap="butt"/>
<rect x="1461.1" y="3037.0" width="543.9" height="295.7" fill="#fff" stroke="#262626" stroke-width="3.3"/>
<line x1="1478.5" y1="3080.0" x2="1649" y2="3080.0" stroke="#0000ff" stroke-width="9"/>
<text x="1661.3" y="3100.6" font-family="'Liberation Sans', Arial, Helvetica, sans-serif" font-size="51.2" fill="#000">LSTM+History</text>
<line x1="1478.5" y1="3149.6" x2="1649" y2="3149.6" stroke="#ff00ff" stroke-width="9"/>
<text x="1661.3" y="3170.2" font-family="'Liberation Sans', Arial, Helvetica, sans-serif" font-size="51.2" fill="#000">RNN+History</text>
<line x1="1478.5" y1="3220.3" x2="1649" y2="3220.3" stroke="#00ffff" stroke-width="9"/>
<text x="1661.3" y="3240.9" font-family="'Liberation Sans', Arial, Helvetica, sans-serif" font-size="51.2" fill="#000">GRU+History</text>
<line x1="1478.5" y1="3290.6" x2="1649" y2="3290.6" stroke="#ff0000" stroke-width="9"/>
<text x="1661.3" y="3311.2" font-family="'Liberation Sans', Arial, Helvetica, sans-serif" font-size="51.2" fill="#000">MLP4+History</text>
<g font-family="'Liberation Sans', Arial, Helvetica, sans-serif" fill="#262626">
<text transform="translate(196.7,3458.9) scale(0.961,1)" font-size="58.6" text-anchor="middle">0</text>
<text transform="translate(567.2,3458.9) scale(0.961,1)" font-size="58.6" text-anchor="middle">100</text>
<text transform="translate(937.7,3458.9) scale(0.961,1)" font-size="58.6" text-anchor="middle">200</text>
<text transform="translate(1308.2,3458.9) scale(0.961,1)" font-size="58.6" text-anchor="middle">300</text>
<text transform="translate(1678.7,3458.9) scale(0.961,1)" font-size="58.6" text-anchor="middle">400</text>
<text transform="translate(2049.2,3458.9) scale(0.961,1)" font-size="58.6" text-anchor="middle">500</text>
<text transform="translate(174.5,3401.9) scale(0.961,1)" font-size="58.6" text-anchor="end">10</text>
<text transform="translate(174.5,3109.8) scale(0.961,1)" font-size="58.6" text-anchor="end">15</text>
<text transform="translate(174.5,2817.7) scale(0.961,1)" font-size="58.6" text-anchor="end">20</text>
<text transform="translate(174.5,2525.5) scale(0.961,1)" font-size="58.6" text-anchor="end">25</text>
<text transform="translate(174.5,2233.4) scale(0.961,1)" font-size="58.6" text-anchor="end">30</text>
<text transform="translate(174.5,1941.3) scale(0.961,1)" font-size="58.6" text-anchor="end">35</text>
<text transform="translate(1124.5,3540.8) scale(0.971,1)" font-size="64.5" text-anchor="middle">Episodes</text>
<text transform="translate(80.0,2648.9) rotate(-90) scale(0.971,1)" font-size="64.5" text-anchor="middle" xml:space="preserve" style="white-space:pre">Average  SINR  per CPI</text>
</g>
<text transform="translate(1083.0,3650.0) scale(1.010,1)" font-family="'Liberation Serif', 'Times New Roman', serif" font-size="72.8" text-anchor="middle" fill="#000">(<tspan font-weight="bold">b</tspan>)</text>
</g>
</svg>
</body>
</html>
